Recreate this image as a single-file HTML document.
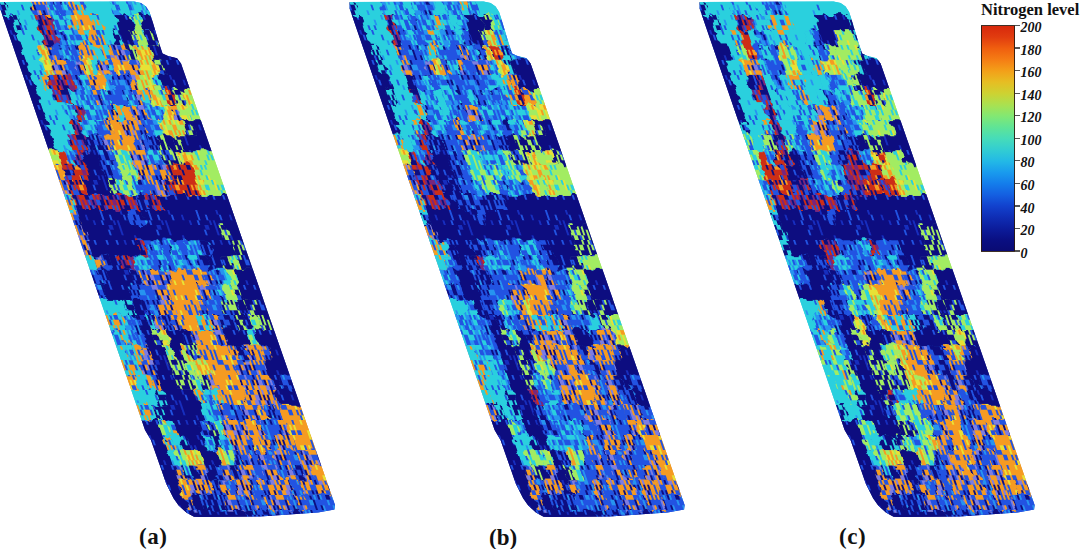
<!DOCTYPE html>
<html><head><meta charset="utf-8"><style>
html,body{margin:0;padding:0;background:#fff;}
body{width:1080px;height:549px;overflow:hidden;position:relative;}
svg{position:absolute;left:0;top:0;}
.tl{font-family:"Liberation Serif",serif;font-weight:bold;font-style:italic;font-size:14px;fill:#111;}
.lab{position:absolute;font-family:"Liberation Serif",serif;font-weight:bold;font-size:23px;letter-spacing:0.6px;color:#111;line-height:1;}
.title{position:absolute;font-family:"Liberation Serif",serif;font-weight:bold;font-size:16.5px;color:#111;line-height:1;white-space:nowrap;}
</style></head><body>
<svg width="1080" height="549" viewBox="0 0 1080 549" shape-rendering="crispEdges">
<defs><filter id="warp" filterUnits="userSpaceOnUse" x="-30" y="-20" width="230" height="565"><feTurbulence type="fractalNoise" baseFrequency="0.12" numOctaves="2" seed="7" result="n"/><feDisplacementMap in="SourceGraphic" in2="n" scale="10" xChannelSelector="R" yChannelSelector="G"/></filter><filter id="soft" x="-2%" y="-2%" width="104%" height="104%"><feGaussianBlur stdDeviation="0.45"/></filter><pattern id="ptN" patternUnits="userSpaceOnUse" width="48" height="45"><rect width="48" height="45" fill="#0c0e80"/><path fill="#192dbe" d="M34 0h4v5h-4zM44 0h2v5h-2zM44 5h2v5h-2zM8 10h2v5h-2zM44 15h2v5h-2zM2 30h2v5h-2zM14 35h2v5h-2zM20 40h2v5h-2zM40 40h2v5h-2zM44 40h2v5h-2z"/><path fill="#2052e2" d="M32 5h2v5h-2zM4 15h2v5h-2zM14 15h2v5h-2zM26 15h2v5h-2zM36 15h2v5h-2zM30 30h2v5h-2zM4 35h2v5h-2zM30 35h2v5h-2zM38 35h2v5h-2zM28 40h2v5h-2z"/></pattern>
<pattern id="ptD" patternUnits="userSpaceOnUse" width="48" height="45"><rect width="48" height="45" fill="#0c0e80"/><path fill="#2894f0" d="M2 0h2v5h-2zM32 0h2v5h-2zM0 10h2v5h-2zM18 10h2v5h-2zM36 10h2v5h-2zM2 15h4v5h-4zM12 15h2v5h-2zM32 15h2v5h-2zM6 25h2v5h-2zM8 30h2v5h-2zM24 40h2v5h-2z"/><path fill="#2052e2" d="M6 0h2v5h-2zM12 0h2v5h-2zM16 0h6v5h-6zM28 0h4v5h-4zM34 0h2v5h-2zM38 0h2v5h-2zM46 0h2v5h-2zM0 5h4v5h-4zM6 5h4v5h-4zM12 5h2v5h-2zM20 5h6v5h-6zM30 5h4v5h-4zM36 5h2v5h-2zM42 5h2v5h-2zM10 10h2v5h-2zM14 10h2v5h-2zM20 10h2v5h-2zM30 10h2v5h-2zM40 10h2v5h-2zM0 15h2v5h-2zM10 15h2v5h-2zM14 15h6v5h-6zM22 15h2v5h-2zM36 15h6v5h-6zM2 20h4v5h-4zM10 20h6v5h-6zM24 20h2v5h-2zM30 20h2v5h-2zM34 20h2v5h-2zM38 20h2v5h-2zM42 20h4v5h-4zM0 25h2v5h-2zM4 25h2v5h-2zM8 25h2v5h-2zM14 25h4v5h-4zM20 25h2v5h-2zM24 25h2v5h-2zM30 25h12v5h-12zM0 30h4v5h-4zM10 30h8v5h-8zM28 30h2v5h-2zM32 30h2v5h-2zM44 30h2v5h-2zM2 35h2v5h-2zM8 35h6v5h-6zM16 35h4v5h-4zM30 35h6v5h-6zM38 35h2v5h-2zM44 35h4v5h-4zM2 40h4v5h-4zM8 40h4v5h-4zM14 40h10v5h-10zM26 40h2v5h-2zM34 40h4v5h-4zM40 40h4v5h-4zM46 40h2v5h-2z"/></pattern>
<pattern id="ptB" patternUnits="userSpaceOnUse" width="48" height="45"><rect width="48" height="45" fill="#2052e2"/><path fill="#2894f0" d="M2 0h2v5h-2zM8 0h2v5h-2zM20 0h4v5h-4zM26 0h2v5h-2zM36 0h2v5h-2zM14 5h2v5h-2zM28 5h2v5h-2zM44 5h4v5h-4zM8 10h2v5h-2zM18 10h2v5h-2zM22 10h2v5h-2zM28 10h2v5h-2zM8 15h2v5h-2zM28 15h2v5h-2zM36 15h2v5h-2zM40 15h2v5h-2zM18 20h2v5h-2zM22 20h2v5h-2zM26 20h2v5h-2zM42 20h6v5h-6zM0 25h2v5h-2zM8 25h2v5h-2zM16 25h2v5h-2zM26 25h2v5h-2zM10 30h2v5h-2zM18 30h2v5h-2zM24 30h4v5h-4zM38 30h2v5h-2zM0 35h4v5h-4zM14 35h4v5h-4zM30 35h2v5h-2zM42 35h2v5h-2zM46 35h2v5h-2zM2 40h4v5h-4zM28 40h4v5h-4zM38 40h2v5h-2z"/><path fill="#0c0e80" d="M6 0h2v5h-2zM14 0h4v5h-4zM30 0h4v5h-4zM46 0h2v5h-2zM0 5h2v5h-2zM0 10h2v5h-2zM6 10h2v5h-2zM26 10h2v5h-2zM30 10h2v5h-2zM26 15h2v5h-2zM32 15h2v5h-2zM42 15h2v5h-2zM14 20h2v5h-2zM20 20h2v5h-2zM40 20h2v5h-2zM10 25h2v5h-2zM38 25h2v5h-2zM4 30h2v5h-2zM40 30h2v5h-2zM46 30h2v5h-2zM6 35h2v5h-2zM24 35h2v5h-2zM28 35h2v5h-2zM22 40h2v5h-2zM32 40h2v5h-2z"/></pattern>
<pattern id="ptA" patternUnits="userSpaceOnUse" width="48" height="45"><rect width="48" height="45" fill="#2052e2"/><path fill="#2894f0" d="M0 0h4v5h-4zM10 0h4v5h-4zM20 0h2v5h-2zM34 0h4v5h-4zM40 0h2v5h-2zM10 5h2v5h-2zM14 5h2v5h-2zM36 5h2v5h-2zM46 5h2v5h-2zM0 10h2v5h-2zM4 10h2v5h-2zM12 10h2v5h-2zM16 10h6v5h-6zM24 10h4v5h-4zM32 10h2v5h-2zM14 15h4v5h-4zM22 15h4v5h-4zM28 15h2v5h-2zM36 15h2v5h-2zM46 15h2v5h-2zM14 20h2v5h-2zM18 20h2v5h-2zM28 20h2v5h-2zM34 20h2v5h-2zM44 20h2v5h-2zM6 25h4v5h-4zM14 25h2v5h-2zM26 25h2v5h-2zM32 25h4v5h-4zM0 30h2v5h-2zM18 30h4v5h-4zM30 30h2v5h-2zM34 30h6v5h-6zM42 30h2v5h-2zM2 35h2v5h-2zM8 35h2v5h-2zM16 35h2v5h-2zM24 35h4v5h-4zM34 35h2v5h-2zM42 35h2v5h-2zM4 40h2v5h-2zM10 40h2v5h-2zM14 40h2v5h-2zM34 40h6v5h-6zM44 40h2v5h-2z"/><path fill="#2ad0de" d="M8 0h2v5h-2zM16 0h2v5h-2zM22 0h4v5h-4zM28 0h4v5h-4zM38 0h2v5h-2zM42 0h4v5h-4zM0 5h2v5h-2zM6 5h2v5h-2zM16 5h4v5h-4zM24 5h2v5h-2zM38 5h8v5h-8zM2 10h2v5h-2zM10 10h2v5h-2zM30 10h2v5h-2zM34 10h10v5h-10zM46 10h2v5h-2zM2 15h6v5h-6zM12 15h2v5h-2zM18 15h2v5h-2zM30 15h4v5h-4zM40 15h2v5h-2zM0 20h2v5h-2zM6 20h6v5h-6zM24 20h4v5h-4zM32 20h2v5h-2zM36 20h8v5h-8zM46 20h2v5h-2zM0 25h2v5h-2zM18 25h4v5h-4zM30 25h2v5h-2zM38 25h2v5h-2zM46 25h2v5h-2zM2 30h14v5h-14zM22 30h8v5h-8zM32 30h2v5h-2zM40 30h2v5h-2zM0 35h2v5h-2zM4 35h2v5h-2zM10 35h2v5h-2zM32 35h2v5h-2zM38 35h2v5h-2zM44 35h4v5h-4zM2 40h2v5h-2zM6 40h4v5h-4zM12 40h2v5h-2zM16 40h10v5h-10zM30 40h4v5h-4zM40 40h4v5h-4z"/></pattern>
<pattern id="ptK" patternUnits="userSpaceOnUse" width="48" height="45"><rect width="48" height="45" fill="#2ad0de"/><path fill="#2052e2" d="M0 0h2v5h-2zM16 0h2v5h-2zM20 0h2v5h-2zM34 0h2v5h-2zM2 5h2v5h-2zM8 5h2v5h-2zM18 5h4v5h-4zM24 5h6v5h-6zM10 10h2v5h-2zM16 10h2v5h-2zM36 10h2v5h-2zM44 10h2v5h-2zM6 15h2v5h-2zM18 15h2v5h-2zM26 15h4v5h-4zM0 20h2v5h-2zM16 20h2v5h-2zM20 20h2v5h-2zM26 20h2v5h-2zM34 20h4v5h-4zM42 20h2v5h-2zM8 25h2v5h-2zM12 25h4v5h-4zM24 25h2v5h-2zM42 25h2v5h-2zM22 30h2v5h-2zM38 30h2v5h-2zM20 35h2v5h-2zM38 35h2v5h-2zM30 40h2v5h-2zM44 40h2v5h-2z"/><path fill="#2894f0" d="M8 0h2v5h-2zM18 0h2v5h-2zM32 0h2v5h-2zM10 5h2v5h-2zM34 5h2v5h-2zM38 5h2v5h-2zM22 10h4v5h-4zM28 10h2v5h-2zM32 10h2v5h-2zM38 10h2v5h-2zM10 15h4v5h-4zM46 15h2v5h-2zM2 20h2v5h-2zM0 25h2v5h-2zM22 25h2v5h-2zM30 25h2v5h-2zM6 30h2v5h-2zM24 30h2v5h-2zM32 30h2v5h-2zM36 30h2v5h-2zM8 35h2v5h-2zM12 35h2v5h-2zM36 35h2v5h-2zM6 40h4v5h-4zM14 40h2v5h-2z"/></pattern>
<pattern id="ptJ" patternUnits="userSpaceOnUse" width="48" height="45"><rect width="48" height="45" fill="#2ad0de"/><path fill="#a2ec62" d="M0 0h4v5h-4zM12 0h4v5h-4zM26 0h2v5h-2zM8 5h2v5h-2zM16 5h4v5h-4zM24 5h2v5h-2zM10 10h4v5h-4zM22 10h2v5h-2zM32 10h2v5h-2zM2 15h2v5h-2zM22 15h6v5h-6zM30 15h2v5h-2zM40 15h2v5h-2zM2 20h2v5h-2zM6 20h2v5h-2zM16 20h2v5h-2zM20 20h4v5h-4zM28 20h2v5h-2zM34 20h2v5h-2zM40 20h2v5h-2zM2 25h2v5h-2zM6 25h2v5h-2zM14 25h4v5h-4zM24 25h4v5h-4zM38 25h2v5h-2zM4 30h6v5h-6zM16 30h2v5h-2zM24 30h4v5h-4zM36 30h2v5h-2zM42 30h2v5h-2zM0 35h2v5h-2zM14 35h2v5h-2zM18 35h8v5h-8zM30 35h2v5h-2zM34 35h2v5h-2zM40 35h2v5h-2zM14 40h2v5h-2zM34 40h2v5h-2zM44 40h4v5h-4z"/><path fill="#2052e2" d="M4 0h2v5h-2zM8 0h2v5h-2zM24 0h2v5h-2zM14 5h2v5h-2zM28 5h2v5h-2zM32 5h2v5h-2zM36 5h4v5h-4zM42 5h2v5h-2zM46 5h2v5h-2zM20 10h2v5h-2zM28 10h2v5h-2zM38 10h2v5h-2zM20 15h2v5h-2zM42 15h2v5h-2zM46 15h2v5h-2zM30 20h2v5h-2zM46 20h2v5h-2zM36 25h2v5h-2zM28 30h2v5h-2zM40 30h2v5h-2zM2 35h2v5h-2zM16 35h2v5h-2zM42 40h2v5h-2z"/><path fill="#f59b20" d="M18 10h2v5h-2zM18 15h2v5h-2zM4 20h2v5h-2zM42 20h2v5h-2zM12 25h2v5h-2zM14 30h2v5h-2zM18 30h2v5h-2zM38 30h2v5h-2zM4 35h2v5h-2zM44 35h2v5h-2zM2 40h2v5h-2zM12 40h2v5h-2z"/></pattern>
<pattern id="ptC" patternUnits="userSpaceOnUse" width="48" height="45"><rect width="48" height="45" fill="#2ad0de"/><path fill="#2052e2" d="M22 5h2v5h-2zM36 20h2v5h-2zM12 25h2v5h-2zM18 25h2v5h-2zM14 30h2v5h-2zM22 35h2v5h-2z"/><path fill="#2894f0" d="M16 10h2v5h-2zM28 15h2v5h-2zM20 20h2v5h-2zM32 25h2v5h-2zM38 35h2v5h-2zM2 40h2v5h-2zM26 40h2v5h-2z"/></pattern>
<pattern id="ptT" patternUnits="userSpaceOnUse" width="48" height="45"><rect width="48" height="45" fill="#0c0e80"/><path fill="#2ad0de" d="M2 0h4v5h-4zM8 0h6v5h-6zM24 0h2v5h-2zM40 0h2v5h-2zM6 5h2v5h-2zM10 5h2v5h-2zM14 5h2v5h-2zM18 5h2v5h-2zM24 5h2v5h-2zM30 5h2v5h-2zM36 5h2v5h-2zM44 5h2v5h-2zM4 10h4v5h-4zM12 10h2v5h-2zM20 10h4v5h-4zM26 10h22v5h-22zM0 15h10v5h-10zM14 15h2v5h-2zM18 15h4v5h-4zM26 15h2v5h-2zM30 15h4v5h-4zM38 15h2v5h-2zM42 15h2v5h-2zM46 15h2v5h-2zM0 20h2v5h-2zM8 20h6v5h-6zM22 20h2v5h-2zM26 20h2v5h-2zM30 20h2v5h-2zM36 20h2v5h-2zM40 20h6v5h-6zM4 25h6v5h-6zM16 25h6v5h-6zM32 25h4v5h-4zM38 25h2v5h-2zM42 25h4v5h-4zM2 30h6v5h-6zM10 30h4v5h-4zM16 30h2v5h-2zM26 30h10v5h-10zM46 30h2v5h-2zM0 35h2v5h-2zM14 35h4v5h-4zM22 35h2v5h-2zM36 35h2v5h-2zM44 35h2v5h-2zM0 40h4v5h-4zM12 40h4v5h-4zM24 40h4v5h-4zM30 40h2v5h-2zM40 40h2v5h-2zM44 40h4v5h-4z"/><path fill="#2052e2" d="M16 0h2v5h-2zM34 0h2v5h-2zM38 0h2v5h-2zM44 0h2v5h-2zM0 5h2v5h-2zM40 5h2v5h-2zM8 10h2v5h-2zM24 10h2v5h-2zM28 15h2v5h-2zM20 20h2v5h-2zM28 20h2v5h-2zM34 20h2v5h-2zM14 25h2v5h-2zM30 25h2v5h-2zM36 30h2v5h-2zM4 35h4v5h-4zM20 40h2v5h-2z"/></pattern>
<pattern id="ptG" patternUnits="userSpaceOnUse" width="48" height="45"><rect width="48" height="45" fill="#a2ec62"/><path fill="#2ad0de" d="M8 0h2v5h-2zM32 0h2v5h-2zM38 0h2v5h-2zM0 5h4v5h-4zM12 5h2v5h-2zM16 5h4v5h-4zM40 5h2v5h-2zM14 10h2v5h-2zM22 10h4v5h-4zM36 10h2v5h-2zM44 10h2v5h-2zM0 15h4v5h-4zM14 15h2v5h-2zM22 15h2v5h-2zM38 15h2v5h-2zM2 20h2v5h-2zM12 20h2v5h-2zM16 20h2v5h-2zM22 20h2v5h-2zM8 25h2v5h-2zM24 25h2v5h-2zM2 30h2v5h-2zM6 30h2v5h-2zM20 30h2v5h-2zM38 30h2v5h-2zM0 35h2v5h-2zM26 35h2v5h-2zM34 35h2v5h-2zM4 40h2v5h-2z"/><path fill="#e8e134" d="M10 0h2v5h-2zM46 0h2v5h-2zM10 5h2v5h-2zM20 5h2v5h-2zM26 10h2v5h-2zM4 15h2v5h-2zM28 15h2v5h-2zM38 20h2v5h-2zM20 25h2v5h-2zM30 30h2v5h-2zM32 35h2v5h-2zM6 40h2v5h-2zM28 40h2v5h-2zM40 40h2v5h-2z"/></pattern>
<pattern id="ptY" patternUnits="userSpaceOnUse" width="48" height="45"><rect width="48" height="45" fill="#a2ec62"/><path fill="#f59b20" d="M0 0h4v5h-4zM6 0h2v5h-2zM16 0h2v5h-2zM20 0h2v5h-2zM24 0h4v5h-4zM32 0h2v5h-2zM38 0h2v5h-2zM8 5h2v5h-2zM12 5h2v5h-2zM20 5h2v5h-2zM26 5h4v5h-4zM34 5h2v5h-2zM38 5h2v5h-2zM42 5h2v5h-2zM6 10h2v5h-2zM12 10h2v5h-2zM18 10h4v5h-4zM28 10h2v5h-2zM32 10h2v5h-2zM36 10h2v5h-2zM40 10h2v5h-2zM44 10h2v5h-2zM4 15h2v5h-2zM16 15h4v5h-4zM26 15h2v5h-2zM32 15h2v5h-2zM38 15h2v5h-2zM12 20h2v5h-2zM20 20h2v5h-2zM36 20h4v5h-4zM44 20h2v5h-2zM20 25h6v5h-6zM28 25h2v5h-2zM36 25h2v5h-2zM40 25h4v5h-4zM2 30h4v5h-4zM10 30h4v5h-4zM16 30h4v5h-4zM28 30h2v5h-2zM34 30h2v5h-2zM44 30h4v5h-4zM0 35h2v5h-2zM10 35h6v5h-6zM20 35h2v5h-2zM24 35h2v5h-2zM36 35h4v5h-4zM6 40h2v5h-2zM20 40h2v5h-2zM30 40h4v5h-4zM36 40h2v5h-2zM40 40h2v5h-2zM44 40h2v5h-2z"/><path fill="#e8e134" d="M4 0h2v5h-2zM10 0h2v5h-2zM22 0h2v5h-2zM40 0h2v5h-2zM44 0h4v5h-4zM0 5h4v5h-4zM6 5h2v5h-2zM10 5h2v5h-2zM30 5h4v5h-4zM36 5h2v5h-2zM0 10h2v5h-2zM4 10h2v5h-2zM14 10h2v5h-2zM24 10h2v5h-2zM30 10h2v5h-2zM42 10h2v5h-2zM2 15h2v5h-2zM6 15h4v5h-4zM12 15h4v5h-4zM20 15h2v5h-2zM28 15h2v5h-2zM36 15h2v5h-2zM8 20h4v5h-4zM16 20h2v5h-2zM24 20h10v5h-10zM40 20h4v5h-4zM0 25h6v5h-6zM8 25h2v5h-2zM16 25h2v5h-2zM34 25h2v5h-2zM38 25h2v5h-2zM14 30h2v5h-2zM24 30h2v5h-2zM32 30h2v5h-2zM38 30h2v5h-2zM42 30h2v5h-2zM4 35h6v5h-6zM28 35h2v5h-2zM2 40h4v5h-4zM10 40h4v5h-4zM26 40h4v5h-4z"/></pattern>
<pattern id="ptO" patternUnits="userSpaceOnUse" width="48" height="45"><rect width="48" height="45" fill="#f59b20"/><path fill="#2052e2" d="M0 0h6v5h-6zM28 0h2v5h-2zM6 5h4v5h-4zM14 5h2v5h-2zM18 5h2v5h-2zM26 5h2v5h-2zM42 5h2v5h-2zM16 10h2v5h-2zM6 15h2v5h-2zM28 20h2v5h-2zM2 25h4v5h-4zM8 25h4v5h-4zM22 25h2v5h-2zM38 25h2v5h-2zM42 30h2v5h-2zM0 35h2v5h-2zM18 35h2v5h-2zM34 35h2v5h-2zM38 35h2v5h-2zM44 35h2v5h-2zM0 40h2v5h-2zM10 40h2v5h-2zM18 40h2v5h-2zM36 40h4v5h-4zM44 40h2v5h-2z"/><path fill="#e8e134" d="M14 0h2v5h-2zM24 5h2v5h-2zM18 10h2v5h-2zM32 10h2v5h-2zM40 10h2v5h-2zM14 15h2v5h-2zM24 15h2v5h-2zM2 20h2v5h-2zM6 20h2v5h-2zM0 25h2v5h-2zM18 25h4v5h-4zM28 25h2v5h-2zM34 25h2v5h-2zM2 30h2v5h-2zM18 30h2v5h-2zM22 35h2v5h-2zM6 40h4v5h-4zM14 40h2v5h-2zM28 40h2v5h-2z"/></pattern>
<pattern id="ptR" patternUnits="userSpaceOnUse" width="48" height="45"><rect width="48" height="45" fill="#cd2d19"/><path fill="#0c0e80" d="M0 0h4v5h-4zM16 0h2v5h-2zM20 0h2v5h-2zM24 0h2v5h-2zM46 0h2v5h-2zM10 5h2v5h-2zM30 5h2v5h-2zM42 5h4v5h-4zM2 10h2v5h-2zM12 10h2v5h-2zM16 10h2v5h-2zM26 10h2v5h-2zM30 10h2v5h-2zM36 10h2v5h-2zM44 10h2v5h-2zM18 15h4v5h-4zM26 15h2v5h-2zM32 15h2v5h-2zM40 15h4v5h-4zM4 20h2v5h-2zM22 20h4v5h-4zM30 20h2v5h-2zM20 25h2v5h-2zM34 25h2v5h-2zM0 30h2v5h-2zM12 30h2v5h-2zM18 30h2v5h-2zM28 30h2v5h-2zM36 30h4v5h-4zM0 35h2v5h-2zM16 35h2v5h-2zM30 35h2v5h-2zM44 35h2v5h-2zM2 40h4v5h-4zM24 40h4v5h-4zM46 40h2v5h-2z"/><path fill="#f59b20" d="M4 0h4v5h-4zM12 0h2v5h-2zM22 0h2v5h-2zM26 0h2v5h-2zM42 0h2v5h-2zM6 5h4v5h-4zM18 5h4v5h-4zM34 5h2v5h-2zM38 5h4v5h-4zM0 10h2v5h-2zM4 10h2v5h-2zM8 10h2v5h-2zM24 10h2v5h-2zM42 10h2v5h-2zM0 15h2v5h-2zM16 15h2v5h-2zM24 15h2v5h-2zM30 15h2v5h-2zM34 15h4v5h-4zM6 20h2v5h-2zM26 20h2v5h-2zM38 20h4v5h-4zM46 20h2v5h-2zM2 25h2v5h-2zM14 25h2v5h-2zM32 25h2v5h-2zM46 25h2v5h-2zM20 30h6v5h-6zM46 35h2v5h-2zM8 40h2v5h-2zM22 40h2v5h-2z"/></pattern>
<pattern id="ptP" patternUnits="userSpaceOnUse" width="48" height="45"><rect width="48" height="45" fill="#cd2d19"/><path fill="#78287d" d="M0 0h2v5h-2zM4 0h4v5h-4zM16 0h2v5h-2zM20 0h6v5h-6zM28 0h2v5h-2zM40 0h2v5h-2zM44 0h2v5h-2zM0 5h2v5h-2zM4 5h2v5h-2zM18 5h2v5h-2zM30 5h2v5h-2zM36 5h2v5h-2zM42 5h2v5h-2zM4 10h2v5h-2zM20 10h2v5h-2zM0 15h2v5h-2zM6 15h2v5h-2zM12 15h2v5h-2zM30 15h2v5h-2zM34 15h2v5h-2zM38 15h2v5h-2zM0 20h2v5h-2zM16 20h2v5h-2zM20 20h2v5h-2zM24 20h2v5h-2zM28 20h2v5h-2zM42 20h2v5h-2zM46 20h2v5h-2zM6 25h2v5h-2zM16 25h2v5h-2zM26 25h2v5h-2zM36 25h2v5h-2zM0 30h2v5h-2zM4 30h4v5h-4zM12 30h2v5h-2zM44 30h4v5h-4zM0 35h2v5h-2zM6 35h2v5h-2zM26 35h4v5h-4zM34 35h2v5h-2zM38 35h2v5h-2zM44 35h2v5h-2zM2 40h2v5h-2zM8 40h2v5h-2zM16 40h2v5h-2zM34 40h2v5h-2zM42 40h6v5h-6z"/><path fill="#0c0e80" d="M10 0h4v5h-4zM18 0h2v5h-2zM32 0h8v5h-8zM42 0h2v5h-2zM46 0h2v5h-2zM2 5h2v5h-2zM6 5h4v5h-4zM16 5h2v5h-2zM22 5h4v5h-4zM38 5h4v5h-4zM0 10h2v5h-2zM16 10h4v5h-4zM40 10h2v5h-2zM46 10h2v5h-2zM2 15h2v5h-2zM8 15h4v5h-4zM20 15h4v5h-4zM36 15h2v5h-2zM44 15h4v5h-4zM4 20h2v5h-2zM10 20h2v5h-2zM26 20h2v5h-2zM34 20h4v5h-4zM40 20h2v5h-2zM4 25h2v5h-2zM8 25h6v5h-6zM22 25h2v5h-2zM28 25h2v5h-2zM32 25h4v5h-4zM18 30h2v5h-2zM24 30h2v5h-2zM34 30h2v5h-2zM40 30h2v5h-2zM2 35h2v5h-2zM8 35h6v5h-6zM18 35h2v5h-2zM32 35h2v5h-2zM36 35h2v5h-2zM20 40h4v5h-4zM30 40h2v5h-2zM36 40h6v5h-6z"/><path fill="#2052e2" d="M26 0h2v5h-2zM10 5h2v5h-2zM14 5h2v5h-2zM28 5h2v5h-2zM32 5h4v5h-4zM44 5h2v5h-2zM2 10h2v5h-2zM10 10h6v5h-6zM30 10h4v5h-4zM36 10h2v5h-2zM42 10h4v5h-4zM4 15h2v5h-2zM24 15h4v5h-4zM40 15h2v5h-2zM12 20h2v5h-2zM22 20h2v5h-2zM30 20h4v5h-4zM0 25h2v5h-2zM18 25h2v5h-2zM24 25h2v5h-2zM38 25h2v5h-2zM44 25h2v5h-2zM26 30h4v5h-4zM36 30h2v5h-2zM14 35h4v5h-4zM42 35h2v5h-2zM6 40h2v5h-2zM10 40h4v5h-4zM24 40h2v5h-2z"/></pattern>
<pattern id="ptM" patternUnits="userSpaceOnUse" width="48" height="45"><rect width="48" height="45" fill="#f59b20"/><path fill="#2052e2" d="M2 0h2v5h-2zM8 0h4v5h-4zM20 0h6v5h-6zM34 0h2v5h-2zM38 0h2v5h-2zM42 0h2v5h-2zM46 0h2v5h-2zM2 5h4v5h-4zM14 5h6v5h-6zM28 5h2v5h-2zM36 5h10v5h-10zM8 10h2v5h-2zM14 10h2v5h-2zM22 10h4v5h-4zM30 10h6v5h-6zM40 10h2v5h-2zM44 10h2v5h-2zM0 15h2v5h-2zM6 15h2v5h-2zM14 15h8v5h-8zM24 15h6v5h-6zM32 15h2v5h-2zM36 15h2v5h-2zM0 20h2v5h-2zM8 20h2v5h-2zM22 20h2v5h-2zM26 20h2v5h-2zM38 20h2v5h-2zM44 20h2v5h-2zM6 25h4v5h-4zM12 25h2v5h-2zM26 25h2v5h-2zM46 25h2v5h-2zM6 30h2v5h-2zM10 30h2v5h-2zM18 30h2v5h-2zM22 30h4v5h-4zM40 30h2v5h-2zM2 35h6v5h-6zM14 35h2v5h-2zM44 35h2v5h-2zM0 40h2v5h-2zM4 40h2v5h-2zM16 40h4v5h-4zM28 40h2v5h-2zM38 40h2v5h-2zM46 40h2v5h-2z"/><path fill="#0c0e80" d="M4 0h2v5h-2zM8 5h2v5h-2zM20 5h2v5h-2zM26 5h2v5h-2zM30 5h2v5h-2zM34 5h2v5h-2zM6 10h2v5h-2zM10 10h2v5h-2zM20 10h2v5h-2zM26 10h2v5h-2zM42 10h2v5h-2zM30 15h2v5h-2zM2 20h2v5h-2zM10 20h2v5h-2zM16 20h2v5h-2zM28 20h2v5h-2zM32 20h2v5h-2zM40 20h2v5h-2zM4 25h2v5h-2zM10 25h2v5h-2zM20 25h2v5h-2zM44 25h2v5h-2zM8 30h2v5h-2zM30 30h2v5h-2zM44 30h2v5h-2zM20 35h2v5h-2zM30 35h2v5h-2zM34 35h2v5h-2zM38 35h2v5h-2zM2 40h2v5h-2zM6 40h2v5h-2zM12 40h2v5h-2zM36 40h2v5h-2z"/><path fill="#7d7de1" d="M6 0h2v5h-2zM28 0h4v5h-4zM10 5h4v5h-4zM24 5h2v5h-2zM46 5h2v5h-2zM0 10h2v5h-2zM4 10h2v5h-2zM18 10h2v5h-2zM36 10h2v5h-2zM46 10h2v5h-2zM8 15h6v5h-6zM22 15h2v5h-2zM6 20h2v5h-2zM34 20h4v5h-4zM46 20h2v5h-2zM0 25h2v5h-2zM16 25h4v5h-4zM32 25h2v5h-2zM40 25h4v5h-4zM2 30h2v5h-2zM12 30h4v5h-4zM34 30h2v5h-2zM26 35h4v5h-4zM24 40h4v5h-4zM34 40h2v5h-2zM42 40h2v5h-2z"/></pattern>
<pattern id="ptQ" patternUnits="userSpaceOnUse" width="48" height="45"><rect width="48" height="45" fill="#2ad0de"/><path fill="#f59b20" d="M0 0h2v5h-2zM16 0h2v5h-2zM20 0h4v5h-4zM26 0h2v5h-2zM40 0h2v5h-2zM0 5h2v5h-2zM6 5h6v5h-6zM16 5h2v5h-2zM22 5h2v5h-2zM26 5h2v5h-2zM30 5h2v5h-2zM34 5h2v5h-2zM40 5h2v5h-2zM46 5h2v5h-2zM4 10h2v5h-2zM8 10h2v5h-2zM24 10h4v5h-4zM32 10h2v5h-2zM40 10h2v5h-2zM46 10h2v5h-2zM6 15h2v5h-2zM12 15h2v5h-2zM20 15h4v5h-4zM34 15h4v5h-4zM0 20h2v5h-2zM4 20h2v5h-2zM8 20h2v5h-2zM20 20h4v5h-4zM34 20h4v5h-4zM40 20h2v5h-2zM44 20h2v5h-2zM0 25h4v5h-4zM10 25h2v5h-2zM14 25h4v5h-4zM20 25h2v5h-2zM28 25h6v5h-6zM4 30h2v5h-2zM14 30h2v5h-2zM18 30h10v5h-10zM38 30h2v5h-2zM8 35h4v5h-4zM14 35h2v5h-2zM18 35h2v5h-2zM32 35h2v5h-2zM36 35h4v5h-4zM44 35h2v5h-2zM8 40h4v5h-4zM16 40h2v5h-2zM20 40h2v5h-2zM24 40h2v5h-2zM36 40h2v5h-2zM44 40h2v5h-2z"/><path fill="#2052e2" d="M4 0h2v5h-2zM8 0h4v5h-4zM24 0h2v5h-2zM34 0h4v5h-4zM2 5h2v5h-2zM12 5h2v5h-2zM24 5h2v5h-2zM28 5h2v5h-2zM36 5h4v5h-4zM22 10h2v5h-2zM42 10h4v5h-4zM2 15h2v5h-2zM8 15h2v5h-2zM46 15h2v5h-2zM2 20h2v5h-2zM18 20h2v5h-2zM28 20h4v5h-4zM6 25h4v5h-4zM40 30h4v5h-4zM46 30h2v5h-2zM12 35h2v5h-2zM20 35h2v5h-2zM28 35h2v5h-2zM42 35h2v5h-2zM22 40h2v5h-2zM26 40h2v5h-2zM30 40h2v5h-2zM34 40h2v5h-2zM42 40h2v5h-2z"/></pattern>
<pattern id="ptE" patternUnits="userSpaceOnUse" width="48" height="45"><rect width="48" height="45" fill="#0c0e80"/><path fill="#a2ec62" d="M0 0h2v5h-2zM8 0h2v5h-2zM12 0h2v5h-2zM20 0h8v5h-8zM34 0h2v5h-2zM44 0h2v5h-2zM0 5h4v5h-4zM6 5h4v5h-4zM12 5h2v5h-2zM16 5h2v5h-2zM22 5h2v5h-2zM26 5h2v5h-2zM36 5h4v5h-4zM44 5h2v5h-2zM2 10h4v5h-4zM10 10h2v5h-2zM16 10h2v5h-2zM22 10h2v5h-2zM26 10h4v5h-4zM32 10h2v5h-2zM38 10h4v5h-4zM46 10h2v5h-2zM8 15h2v5h-2zM14 15h2v5h-2zM24 15h4v5h-4zM36 15h2v5h-2zM40 15h6v5h-6zM0 20h2v5h-2zM4 20h4v5h-4zM12 20h2v5h-2zM16 20h2v5h-2zM26 20h2v5h-2zM30 20h2v5h-2zM46 20h2v5h-2zM2 25h2v5h-2zM12 25h2v5h-2zM20 25h2v5h-2zM30 25h2v5h-2zM40 25h2v5h-2zM10 30h2v5h-2zM20 30h2v5h-2zM24 30h2v5h-2zM28 30h2v5h-2zM32 30h2v5h-2zM36 30h2v5h-2zM46 30h2v5h-2zM6 35h2v5h-2zM26 35h2v5h-2zM30 35h8v5h-8zM46 35h2v5h-2zM2 40h4v5h-4zM20 40h4v5h-4zM38 40h2v5h-2z"/><path fill="#2052e2" d="M28 0h2v5h-2zM4 5h2v5h-2zM42 5h2v5h-2zM8 10h2v5h-2zM16 15h2v5h-2zM20 15h4v5h-4zM46 15h2v5h-2zM18 20h2v5h-2zM22 20h4v5h-4zM42 25h4v5h-4zM8 30h2v5h-2zM14 30h2v5h-2zM22 30h2v5h-2zM4 35h2v5h-2zM14 35h4v5h-4zM22 35h2v5h-2zM28 35h2v5h-2zM40 35h2v5h-2zM0 40h2v5h-2zM26 40h4v5h-4zM32 40h2v5h-2z"/></pattern>
<pattern id="ptH" patternUnits="userSpaceOnUse" width="48" height="45"><rect width="48" height="45" fill="#a2ec62"/><path fill="#2ad0de" d="M2 0h4v5h-4zM8 0h4v5h-4zM16 0h2v5h-2zM34 0h2v5h-2zM40 0h6v5h-6zM0 5h2v5h-2zM14 5h4v5h-4zM26 5h2v5h-2zM36 5h4v5h-4zM46 5h2v5h-2zM6 10h6v5h-6zM18 10h2v5h-2zM26 10h4v5h-4zM42 10h2v5h-2zM46 10h2v5h-2zM0 15h4v5h-4zM16 15h2v5h-2zM24 15h6v5h-6zM36 15h2v5h-2zM40 15h6v5h-6zM2 20h4v5h-4zM20 20h4v5h-4zM26 20h8v5h-8zM38 20h2v5h-2zM44 20h4v5h-4zM2 25h2v5h-2zM10 25h2v5h-2zM20 25h4v5h-4zM26 25h2v5h-2zM30 25h2v5h-2zM42 25h4v5h-4zM0 30h4v5h-4zM6 30h2v5h-2zM10 30h2v5h-2zM14 30h2v5h-2zM18 30h6v5h-6zM26 30h2v5h-2zM30 30h2v5h-2zM34 30h4v5h-4zM40 30h2v5h-2zM46 30h2v5h-2zM4 35h6v5h-6zM12 35h2v5h-2zM20 35h6v5h-6zM32 35h2v5h-2zM36 35h4v5h-4zM44 35h2v5h-2zM2 40h2v5h-2zM6 40h2v5h-2zM10 40h2v5h-2zM16 40h2v5h-2zM20 40h2v5h-2zM28 40h2v5h-2zM40 40h4v5h-4z"/><path fill="#2052e2" d="M18 0h2v5h-2zM26 0h2v5h-2zM36 0h2v5h-2zM46 0h2v5h-2zM4 5h2v5h-2zM8 5h2v5h-2zM40 5h2v5h-2zM44 5h2v5h-2zM2 10h4v5h-4zM20 10h2v5h-2zM18 15h2v5h-2zM32 15h2v5h-2zM46 15h2v5h-2zM12 20h2v5h-2zM0 25h2v5h-2zM4 25h2v5h-2zM16 30h2v5h-2zM32 30h2v5h-2zM38 30h2v5h-2zM44 30h2v5h-2zM34 35h2v5h-2zM26 40h2v5h-2zM38 40h2v5h-2z"/></pattern></defs>
<clipPath id="cp0"><polygon points="0.0,2.0 134.0,1.5 141.0,3.0 146.0,6.5 149.5,12.0 153.0,23.0 159.0,43.0 162.5,53.5 168.0,56.0 177.0,58.3 181.0,63.5 335.0,505.0 334.5,509.5 318.0,512.5 260.0,516.5 200.0,517.0 194.0,516.8 186.6,512.8 178.6,505.5 173.5,498.3 166.2,483.7 161.1,469.0 156.0,454.6 150.9,440.0 145.0,430.0 0.0,8.5"/></clipPath>
<defs><mask id="m0T" maskUnits="userSpaceOnUse" x="-30" y="-20" width="230" height="565"><g filter="url(#warp)"><path fill="#fff" d="M-20 -10h28v25h-28zM8 15h8v15h-8zM104 30h8v15h-8zM24 300h8v15h-8zM40 315h8v15h-8zM24 390h8v15h-8zM16 405h8v15h-8zM32 435h8v15h-8zM64 435h8v15h-8zM24 465h8v15h-8z"/></g></mask><mask id="m0C" maskUnits="userSpaceOnUse" x="-30" y="-20" width="230" height="565"><g filter="url(#warp)"><path fill="#fff" d="M8 -10h8v25h-8zM16 -10h8v25h-8zM24 -10h8v25h-8zM88 -10h8v25h-8zM96 -10h8v25h-8zM104 -10h8v25h-8zM120 -10h8v25h-8zM16 15h8v15h-8zM24 15h8v15h-8zM96 15h8v15h-8zM104 15h8v15h-8zM8 30h8v15h-8zM16 30h8v15h-8zM24 30h8v15h-8zM96 30h8v15h-8zM8 45h8v15h-8zM16 45h8v15h-8zM80 45h8v15h-8zM8 60h8v15h-8zM16 60h8v15h-8zM8 75h8v15h-8zM8 90h8v15h-8zM16 90h8v15h-8zM8 105h8v15h-8zM16 105h8v15h-8zM24 105h8v15h-8zM8 120h8v15h-8zM16 120h8v15h-8zM24 120h8v15h-8zM8 135h8v15h-8zM16 135h8v15h-8zM-20 300h28v15h-28zM8 300h8v15h-8zM16 300h8v15h-8zM8 375h8v15h-8zM-20 390h28v15h-28zM8 390h8v15h-8zM16 390h8v15h-8zM64 405h8v15h-8zM24 435h8v15h-8zM16 450h8v15h-8z"/></g></mask><mask id="m0M" maskUnits="userSpaceOnUse" x="-30" y="-20" width="230" height="565"><g filter="url(#warp)"><path fill="#fff" d="M32 -10h8v25h-8zM40 -10h8v25h-8zM32 45h8v15h-8zM96 45h8v15h-8zM104 45h8v15h-8zM32 60h8v15h-8zM40 60h8v15h-8zM56 60h8v15h-8zM80 60h8v15h-8zM112 60h8v15h-8zM64 75h8v15h-8zM104 75h8v15h-8zM64 90h8v15h-8zM104 90h8v15h-8zM72 105h8v15h-8zM96 105h8v15h-8zM104 105h8v15h-8zM136 105h8v15h-8zM64 120h8v15h-8zM80 120h8v15h-8zM88 120h8v15h-8zM96 120h8v15h-8zM56 135h8v15h-8zM88 135h8v15h-8zM80 150h8v15h-8zM88 150h8v15h-8zM80 165h8v15h-8zM88 165h8v15h-8zM96 165h8v15h-8zM104 165h8v15h-8zM-20 180h28v15h-28zM88 180h8v15h-8zM96 180h8v15h-8zM-20 210h28v15h-28zM-20 225h28v15h-28zM-20 240h28v15h-28zM8 255h8v15h-8zM48 270h8v15h-8zM56 270h8v15h-8zM64 270h8v15h-8zM72 270h8v15h-8zM112 270h8v15h-8zM56 285h8v15h-8zM64 285h8v15h-8zM104 285h8v15h-8zM56 300h8v15h-8zM64 300h8v15h-8zM96 300h8v15h-8zM48 315h8v15h-8zM64 315h8v15h-8zM104 315h8v15h-8zM80 330h8v15h-8zM104 330h8v15h-8zM24 345h8v15h-8zM112 345h8v15h-8zM128 345h8v15h-8zM144 345h8v15h-8zM16 360h8v15h-8zM24 360h8v15h-8zM112 360h8v15h-8zM120 360h8v15h-8zM128 360h8v15h-8zM136 360h8v15h-8zM24 375h8v15h-8zM80 375h8v15h-8zM112 375h8v15h-8zM120 375h8v15h-8zM128 375h8v15h-8zM136 375h8v15h-8zM112 390h8v15h-8zM120 390h8v15h-8zM128 390h8v15h-8zM136 390h8v15h-8zM80 405h8v15h-8zM104 405h8v15h-8zM112 405h8v15h-8zM136 405h8v15h-8zM80 420h8v15h-8zM88 420h8v15h-8zM96 420h8v15h-8zM112 420h8v15h-8zM136 420h8v15h-8zM80 435h8v15h-8zM88 435h8v15h-8zM96 435h8v15h-8zM112 435h8v15h-8zM128 435h8v15h-8zM136 435h8v15h-8zM88 450h8v15h-8zM104 450h8v15h-8zM120 450h8v15h-8zM128 450h8v15h-8zM144 450h8v15h-8zM152 450h38v15h-38zM16 465h8v15h-8zM40 465h8v15h-8zM64 465h8v15h-8zM80 465h8v15h-8zM88 465h8v15h-8zM104 465h8v15h-8zM112 465h8v15h-8zM128 465h8v15h-8zM144 465h8v15h-8zM24 480h8v15h-8zM32 480h8v15h-8zM40 480h8v15h-8zM56 480h8v15h-8zM72 480h8v15h-8zM80 480h8v15h-8zM96 480h8v15h-8zM104 480h8v15h-8zM112 480h8v15h-8zM120 480h8v15h-8zM136 480h8v15h-8zM144 480h8v15h-8zM152 480h38v15h-38zM16 495h8v15h-8zM56 495h8v15h-8zM64 495h8v15h-8zM80 495h8v15h-8zM96 495h8v15h-8zM104 495h8v15h-8zM112 495h8v15h-8zM128 495h8v15h-8z"/></g></mask><mask id="m0A" maskUnits="userSpaceOnUse" x="-30" y="-20" width="230" height="565"><g filter="url(#warp)"><path fill="#fff" d="M48 -10h8v25h-8zM64 -10h8v25h-8zM112 -10h8v25h-8zM128 -10h8v25h-8zM136 -10h8v25h-8zM144 -10h8v25h-8zM152 -10h38v25h-38zM48 15h8v15h-8zM56 15h8v15h-8zM56 30h8v15h-8zM64 30h8v15h-8zM48 45h8v15h-8zM88 60h8v15h-8zM56 75h8v15h-8zM80 75h8v15h-8zM40 90h8v15h-8zM48 90h8v15h-8zM56 90h8v15h-8zM72 90h8v15h-8zM96 90h8v15h-8zM32 105h8v15h-8zM48 105h8v15h-8zM56 105h8v15h-8zM64 105h8v15h-8zM112 105h8v15h-8zM120 105h8v15h-8zM40 120h8v15h-8zM48 120h8v15h-8zM112 120h8v15h-8zM16 150h8v15h-8zM96 150h8v15h-8zM104 150h8v15h-8zM72 180h8v15h-8zM72 240h8v15h-8zM88 240h8v15h-8zM104 240h8v15h-8zM112 240h8v15h-8zM48 255h8v15h-8zM56 255h8v15h-8zM72 255h8v15h-8zM88 255h8v15h-8zM104 255h8v15h-8zM128 270h8v15h-8zM120 285h8v15h-8zM16 315h8v15h-8zM-20 330h28v15h-28zM16 330h8v15h-8zM8 345h8v15h-8zM72 390h8v15h-8zM72 405h8v15h-8zM56 435h8v15h-8zM72 435h8v15h-8z"/></g></mask><mask id="m0B" maskUnits="userSpaceOnUse" x="-30" y="-20" width="230" height="565"><g filter="url(#warp)"><path fill="#fff" d="M56 -10h8v25h-8zM48 30h8v15h-8zM40 45h8v15h-8zM56 45h8v15h-8zM48 60h8v15h-8zM48 75h8v15h-8zM88 75h8v15h-8zM96 75h8v15h-8zM80 90h8v15h-8zM88 90h8v15h-8zM56 120h8v15h-8zM104 120h8v15h-8zM96 135h8v15h-8zM56 165h8v15h-8zM80 180h8v15h-8zM64 240h8v15h-8zM80 240h8v15h-8zM96 240h8v15h-8zM64 255h8v15h-8zM80 255h8v15h-8zM96 255h8v15h-8zM-20 270h28v15h-28zM120 270h8v15h-8zM40 285h8v15h-8zM48 285h8v15h-8zM112 285h8v15h-8zM48 300h8v15h-8zM104 300h8v15h-8zM112 300h8v15h-8zM24 315h8v15h-8zM24 330h8v15h-8zM88 405h8v15h-8zM96 405h8v15h-8zM120 420h8v15h-8zM128 420h8v15h-8zM120 435h8v15h-8zM96 450h8v15h-8zM112 450h8v15h-8zM136 450h8v15h-8zM96 465h8v15h-8zM120 465h8v15h-8zM64 480h8v15h-8zM88 480h8v15h-8zM128 480h8v15h-8zM72 495h8v15h-8zM88 495h8v15h-8zM120 495h8v15h-8zM136 495h8v15h-8zM144 495h8v15h-8zM152 495h38v15h-38zM128 510h8v30h-8zM136 510h8v30h-8zM144 510h8v30h-8zM152 510h38v30h-38z"/></g></mask><mask id="m0Q" maskUnits="userSpaceOnUse" x="-30" y="-20" width="230" height="565"><g filter="url(#warp)"><path fill="#fff" d="M72 -10h8v25h-8zM80 -10h8v25h-8zM64 15h8v15h-8zM88 15h8v15h-8zM72 30h8v15h-8zM88 30h8v15h-8zM72 45h8v15h-8zM88 45h8v15h-8zM72 60h8v15h-8zM16 75h8v15h-8zM112 90h8v15h-8zM80 105h8v15h-8zM-20 195h28v15h-28zM-20 255h28v15h-28zM-20 315h28v15h-28zM8 315h8v15h-8zM88 315h8v15h-8zM96 315h8v15h-8zM8 330h8v15h-8zM-20 345h28v15h-28zM16 345h8v15h-8zM-20 360h28v15h-28zM8 360h8v15h-8zM16 375h8v15h-8zM64 390h8v15h-8zM80 390h8v15h-8zM-20 405h28v15h-28zM8 405h8v15h-8zM24 420h8v15h-8zM16 435h8v15h-8z"/></g></mask><mask id="m0N" maskUnits="userSpaceOnUse" x="-30" y="-20" width="230" height="565"><g filter="url(#warp)"><path fill="#fff" d="M-20 15h28v15h-28zM112 15h8v15h-8zM120 15h8v15h-8zM136 15h8v15h-8zM144 15h8v15h-8zM152 15h38v15h-38zM-20 30h28v15h-28zM112 30h8v15h-8zM144 30h8v15h-8zM152 30h38v15h-38zM-20 45h28v15h-28zM136 45h8v15h-8zM144 45h8v15h-8zM152 45h38v15h-38zM-20 60h28v15h-28zM144 60h8v15h-8zM152 60h38v15h-38zM-20 75h28v15h-28zM136 75h8v15h-8zM144 75h8v15h-8zM152 75h38v15h-38zM-20 90h28v15h-28zM-20 105h28v15h-28zM-20 120h28v15h-28zM152 120h38v15h-38zM-20 135h28v15h-28zM120 135h8v15h-8zM136 135h8v15h-8zM144 135h8v15h-8zM152 135h38v15h-38zM32 150h8v15h-8zM40 150h8v15h-8zM32 165h8v15h-8zM40 165h8v15h-8zM24 180h8v15h-8zM32 180h8v15h-8zM40 180h8v15h-8zM96 195h8v15h-8zM104 195h8v15h-8zM112 195h8v15h-8zM120 195h8v15h-8zM128 195h8v15h-8zM136 195h8v15h-8zM144 195h8v15h-8zM152 195h38v15h-38zM8 210h8v15h-8zM16 210h8v15h-8zM24 210h8v15h-8zM32 210h8v15h-8zM40 210h8v15h-8zM48 210h8v15h-8zM72 210h8v15h-8zM80 210h8v15h-8zM88 210h8v15h-8zM96 210h8v15h-8zM104 210h8v15h-8zM112 210h8v15h-8zM120 210h8v15h-8zM128 210h8v15h-8zM136 210h8v15h-8zM144 210h8v15h-8zM152 210h38v15h-38zM8 225h8v15h-8zM16 225h8v15h-8zM24 225h8v15h-8zM32 225h8v15h-8zM40 225h8v15h-8zM48 225h8v15h-8zM56 225h8v15h-8zM64 225h8v15h-8zM72 225h8v15h-8zM80 225h8v15h-8zM88 225h8v15h-8zM96 225h8v15h-8zM104 225h8v15h-8zM112 225h8v15h-8zM120 225h8v15h-8zM128 225h8v15h-8zM136 225h8v15h-8zM152 225h38v15h-38zM8 240h8v15h-8zM16 240h8v15h-8zM24 240h8v15h-8zM32 240h8v15h-8zM40 240h8v15h-8zM48 240h8v15h-8zM128 240h8v15h-8zM136 240h8v15h-8zM144 240h8v15h-8zM24 255h8v15h-8zM120 255h8v15h-8zM128 255h8v15h-8zM16 270h8v15h-8zM24 270h8v15h-8zM32 270h8v15h-8zM144 270h8v15h-8zM152 270h38v15h-38zM8 285h8v15h-8zM16 285h8v15h-8zM24 285h8v15h-8zM144 285h8v15h-8zM152 285h38v15h-38zM32 300h8v15h-8zM136 300h8v15h-8zM32 315h8v15h-8zM32 330h8v15h-8zM56 330h8v15h-8zM64 330h8v15h-8zM112 330h8v15h-8zM120 330h8v15h-8zM128 330h8v15h-8zM144 330h8v15h-8zM152 330h38v15h-38zM32 345h8v15h-8zM40 345h8v15h-8zM56 345h8v15h-8zM152 345h38v15h-38zM32 360h8v15h-8zM40 360h8v15h-8zM144 360h8v15h-8zM152 360h38v15h-38zM32 375h8v15h-8zM40 375h8v15h-8zM144 375h8v15h-8zM32 390h8v15h-8zM40 390h8v15h-8zM48 390h8v15h-8zM56 390h8v15h-8zM144 390h8v15h-8zM152 390h38v15h-38zM24 405h8v15h-8zM32 405h8v15h-8zM40 405h8v15h-8zM48 405h8v15h-8zM56 405h8v15h-8zM-20 420h28v15h-28zM8 420h8v15h-8zM32 420h8v15h-8zM40 420h8v15h-8zM48 420h8v15h-8zM-20 435h28v15h-28zM8 435h8v15h-8zM40 435h8v15h-8zM48 435h8v15h-8zM-20 450h28v15h-28zM8 450h8v15h-8zM48 450h8v15h-8zM56 450h8v15h-8zM-20 465h28v15h-28zM8 465h8v15h-8zM32 465h8v15h-8zM48 465h8v15h-8zM-20 480h28v15h-28zM8 480h8v15h-8zM-20 495h28v15h-28zM8 495h8v15h-8zM24 495h8v15h-8zM-20 510h28v30h-28zM8 510h8v30h-8zM16 510h8v30h-8zM24 510h8v30h-8zM32 510h8v30h-8zM40 510h8v30h-8zM48 510h8v30h-8zM56 510h8v30h-8zM64 510h8v30h-8z"/></g></mask><mask id="m0P" maskUnits="userSpaceOnUse" x="-30" y="-20" width="230" height="565"><g filter="url(#warp)"><path fill="#fff" d="M32 15h8v15h-8zM40 15h8v15h-8zM32 30h8v15h-8zM40 30h8v15h-8zM24 75h8v15h-8zM32 75h8v15h-8zM40 75h8v15h-8zM24 90h8v15h-8zM32 90h8v15h-8zM40 105h8v15h-8zM32 120h8v15h-8zM24 135h8v15h-8zM32 135h8v15h-8zM24 150h8v15h-8zM8 165h8v15h-8zM24 165h8v15h-8zM112 165h8v15h-8zM8 180h8v15h-8zM104 180h8v15h-8zM8 195h8v15h-8zM16 195h8v15h-8zM24 195h8v15h-8zM32 195h8v15h-8zM40 195h8v15h-8zM48 195h8v15h-8zM56 195h8v15h-8zM64 195h8v15h-8zM80 195h8v15h-8zM88 195h8v15h-8zM56 240h8v15h-8zM32 255h8v15h-8zM40 255h8v15h-8z"/></g></mask><mask id="m0O" maskUnits="userSpaceOnUse" x="-30" y="-20" width="230" height="565"><g filter="url(#warp)"><path fill="#fff" d="M72 15h8v15h-8zM80 15h8v15h-8zM80 30h8v15h-8zM64 45h8v15h-8zM96 60h8v15h-8zM104 60h8v15h-8zM72 75h8v15h-8zM88 105h8v15h-8zM72 120h8v15h-8zM64 135h8v15h-8zM72 135h8v15h-8zM80 135h8v15h-8zM-20 165h28v15h-28zM80 270h8v15h-8zM88 270h8v15h-8zM96 270h8v15h-8zM104 270h8v15h-8zM72 285h8v15h-8zM80 285h8v15h-8zM88 285h8v15h-8zM96 285h8v15h-8zM72 300h8v15h-8zM80 300h8v15h-8zM88 300h8v15h-8zM72 315h8v15h-8zM80 315h8v15h-8zM88 330h8v15h-8zM96 330h8v15h-8zM80 345h8v15h-8zM88 345h8v15h-8zM96 345h8v15h-8zM104 345h8v15h-8zM136 345h8v15h-8zM88 360h8v15h-8zM96 360h8v15h-8zM104 360h8v15h-8zM-20 375h28v15h-28zM88 375h8v15h-8zM96 375h8v15h-8zM104 375h8v15h-8zM88 390h8v15h-8zM96 390h8v15h-8zM104 390h8v15h-8zM120 405h8v15h-8zM144 405h8v15h-8zM152 405h38v15h-38zM104 420h8v15h-8zM144 420h8v15h-8zM152 420h38v15h-38zM104 435h8v15h-8zM144 435h8v15h-8zM152 435h38v15h-38zM152 465h38v15h-38zM16 480h8v15h-8z"/></g></mask><mask id="m0H" maskUnits="userSpaceOnUse" x="-30" y="-20" width="230" height="565"><g filter="url(#warp)"><path fill="#fff" d="M128 15h8v15h-8zM128 75h8v15h-8zM128 90h8v15h-8zM64 150h8v15h-8zM72 150h8v15h-8zM72 165h8v15h-8zM56 180h8v15h-8zM64 180h8v15h-8zM136 330h8v15h-8zM64 375h8v15h-8zM16 420h8v15h-8zM72 420h8v15h-8zM24 450h8v15h-8zM72 450h8v15h-8z"/></g></mask><mask id="m0E" maskUnits="userSpaceOnUse" x="-30" y="-20" width="230" height="565"><g filter="url(#warp)"><path fill="#fff" d="M120 30h8v15h-8zM136 30h8v15h-8zM112 45h8v15h-8zM136 60h8v15h-8zM144 90h8v15h-8zM144 120h8v15h-8zM112 135h8v15h-8zM128 135h8v15h-8zM112 150h8v15h-8zM120 150h8v15h-8zM48 180h8v15h-8zM144 225h8v15h-8zM152 240h38v15h-38zM136 255h8v15h-8zM152 255h38v15h-38zM136 285h8v15h-8zM120 300h8v15h-8zM128 300h8v15h-8zM144 300h8v15h-8zM152 300h38v15h-38zM128 315h8v15h-8zM152 315h38v15h-38zM40 330h8v15h-8zM72 345h8v15h-8zM48 360h8v15h-8zM56 360h8v15h-8zM48 375h8v15h-8zM56 375h8v15h-8zM72 375h8v15h-8zM64 420h8v15h-8z"/></g></mask><mask id="m0G" maskUnits="userSpaceOnUse" x="-30" y="-20" width="230" height="565"><g filter="url(#warp)"><path fill="#fff" d="M128 30h8v15h-8zM152 105h38v15h-38zM144 150h8v15h-8zM152 150h38v15h-38zM64 165h8v15h-8zM144 165h8v15h-8zM152 165h38v15h-38zM144 180h8v15h-8zM152 180h38v15h-38zM144 255h8v15h-8zM136 270h8v15h-8zM128 285h8v15h-8zM144 315h8v15h-8zM48 345h8v15h-8zM64 360h8v15h-8z"/></g></mask><mask id="m0Y" maskUnits="userSpaceOnUse" x="-30" y="-20" width="230" height="565"><g filter="url(#warp)"><path fill="#fff" d="M24 45h8v15h-8zM120 45h8v15h-8zM128 45h8v15h-8zM24 60h8v15h-8zM64 60h8v15h-8zM120 60h8v15h-8zM128 60h8v15h-8zM112 75h8v15h-8zM120 75h8v15h-8zM120 90h8v15h-8zM152 90h38v15h-38zM128 105h8v15h-8zM144 105h8v15h-8zM120 120h8v15h-8zM128 120h8v15h-8zM136 120h8v15h-8zM-20 150h28v15h-28zM128 150h8v15h-8zM136 150h8v15h-8zM136 165h8v15h-8zM136 180h8v15h-8zM48 330h8v15h-8zM64 345h8v15h-8zM72 360h8v15h-8zM80 360h8v15h-8zM32 450h8v15h-8zM40 450h8v15h-8zM64 450h8v15h-8z"/></g></mask><mask id="m0R" maskUnits="userSpaceOnUse" x="-30" y="-20" width="230" height="565"><g filter="url(#warp)"><path fill="#fff" d="M136 90h8v15h-8zM8 150h8v15h-8zM16 165h8v15h-8zM120 165h8v15h-8zM128 165h8v15h-8zM16 180h8v15h-8zM112 180h8v15h-8zM120 180h8v15h-8zM128 180h8v15h-8z"/></g></mask><mask id="m0D" maskUnits="userSpaceOnUse" x="-30" y="-20" width="230" height="565"><g filter="url(#warp)"><path fill="#fff" d="M40 135h8v15h-8zM48 135h8v15h-8zM104 135h8v15h-8zM48 150h8v15h-8zM56 150h8v15h-8zM48 165h8v15h-8zM72 195h8v15h-8zM56 210h8v15h-8zM64 210h8v15h-8zM120 240h8v15h-8zM16 255h8v15h-8zM112 255h8v15h-8zM8 270h8v15h-8zM40 270h8v15h-8zM-20 285h28v15h-28zM32 285h8v15h-8zM40 300h8v15h-8zM56 315h8v15h-8zM112 315h8v15h-8zM120 315h8v15h-8zM136 315h8v15h-8zM72 330h8v15h-8zM120 345h8v15h-8zM152 375h38v15h-38zM128 405h8v15h-8zM56 420h8v15h-8zM80 450h8v15h-8zM56 465h8v15h-8zM72 465h8v15h-8zM136 465h8v15h-8zM48 480h8v15h-8zM32 495h8v15h-8zM40 495h8v15h-8zM48 495h8v15h-8zM72 510h8v30h-8zM80 510h8v30h-8zM88 510h8v30h-8zM96 510h8v30h-8zM104 510h8v30h-8zM112 510h8v30h-8zM120 510h8v30h-8z"/></g></mask></defs>
<g filter="url(#soft)"><g clip-path="url(#cp0)"><g transform="matrix(1,0,0.343,1,-2.9,0)">
<g filter="url(#warp)"><path fill="#1c6cb4" d="M-20 -10h28v25h-28zM8 15h8v15h-8zM104 30h8v15h-8zM24 300h8v15h-8zM40 315h8v15h-8zM24 390h8v15h-8zM16 405h8v15h-8zM32 435h8v15h-8zM64 435h8v15h-8zM24 465h8v15h-8z"/><path fill="#2acadf" d="M8 -10h8v25h-8zM16 -10h8v25h-8zM24 -10h8v25h-8zM88 -10h8v25h-8zM96 -10h8v25h-8zM104 -10h8v25h-8zM120 -10h8v25h-8zM16 15h8v15h-8zM24 15h8v15h-8zM96 15h8v15h-8zM104 15h8v15h-8zM8 30h8v15h-8zM16 30h8v15h-8zM24 30h8v15h-8zM96 30h8v15h-8zM8 45h8v15h-8zM16 45h8v15h-8zM80 45h8v15h-8zM8 60h8v15h-8zM16 60h8v15h-8zM8 75h8v15h-8zM8 90h8v15h-8zM16 90h8v15h-8zM8 105h8v15h-8zM16 105h8v15h-8zM24 105h8v15h-8zM8 120h8v15h-8zM16 120h8v15h-8zM24 120h8v15h-8zM8 135h8v15h-8zM16 135h8v15h-8zM-20 300h28v15h-28zM8 300h8v15h-8zM16 300h8v15h-8zM8 375h8v15h-8zM-20 390h28v15h-28zM8 390h8v15h-8zM16 390h8v15h-8zM64 405h8v15h-8zM24 435h8v15h-8zM16 450h8v15h-8z"/><path fill="#7d6d8e" d="M32 -10h8v25h-8zM40 -10h8v25h-8zM32 45h8v15h-8zM96 45h8v15h-8zM104 45h8v15h-8zM32 60h8v15h-8zM40 60h8v15h-8zM56 60h8v15h-8zM80 60h8v15h-8zM112 60h8v15h-8zM64 75h8v15h-8zM104 75h8v15h-8zM64 90h8v15h-8zM104 90h8v15h-8zM72 105h8v15h-8zM96 105h8v15h-8zM104 105h8v15h-8zM136 105h8v15h-8zM64 120h8v15h-8zM80 120h8v15h-8zM88 120h8v15h-8zM96 120h8v15h-8zM56 135h8v15h-8zM88 135h8v15h-8zM80 150h8v15h-8zM88 150h8v15h-8zM80 165h8v15h-8zM88 165h8v15h-8zM96 165h8v15h-8zM104 165h8v15h-8zM-20 180h28v15h-28zM88 180h8v15h-8zM96 180h8v15h-8zM-20 210h28v15h-28zM-20 225h28v15h-28zM-20 240h28v15h-28zM8 255h8v15h-8zM48 270h8v15h-8zM56 270h8v15h-8zM64 270h8v15h-8zM72 270h8v15h-8zM112 270h8v15h-8zM56 285h8v15h-8zM64 285h8v15h-8zM104 285h8v15h-8zM56 300h8v15h-8zM64 300h8v15h-8zM96 300h8v15h-8zM48 315h8v15h-8zM64 315h8v15h-8zM104 315h8v15h-8zM80 330h8v15h-8zM104 330h8v15h-8zM24 345h8v15h-8zM112 345h8v15h-8zM128 345h8v15h-8zM144 345h8v15h-8zM16 360h8v15h-8zM24 360h8v15h-8zM112 360h8v15h-8zM120 360h8v15h-8zM128 360h8v15h-8zM136 360h8v15h-8zM24 375h8v15h-8zM80 375h8v15h-8zM112 375h8v15h-8zM120 375h8v15h-8zM128 375h8v15h-8zM136 375h8v15h-8zM112 390h8v15h-8zM120 390h8v15h-8zM128 390h8v15h-8zM136 390h8v15h-8zM80 405h8v15h-8zM104 405h8v15h-8zM112 405h8v15h-8zM136 405h8v15h-8zM80 420h8v15h-8zM88 420h8v15h-8zM96 420h8v15h-8zM112 420h8v15h-8zM136 420h8v15h-8zM80 435h8v15h-8zM88 435h8v15h-8zM96 435h8v15h-8zM112 435h8v15h-8zM128 435h8v15h-8zM136 435h8v15h-8zM88 450h8v15h-8zM104 450h8v15h-8zM120 450h8v15h-8zM128 450h8v15h-8zM144 450h8v15h-8zM152 450h38v15h-38zM16 465h8v15h-8zM40 465h8v15h-8zM64 465h8v15h-8zM80 465h8v15h-8zM88 465h8v15h-8zM104 465h8v15h-8zM112 465h8v15h-8zM128 465h8v15h-8zM144 465h8v15h-8zM24 480h8v15h-8zM32 480h8v15h-8zM40 480h8v15h-8zM56 480h8v15h-8zM72 480h8v15h-8zM80 480h8v15h-8zM96 480h8v15h-8zM104 480h8v15h-8zM112 480h8v15h-8zM120 480h8v15h-8zM136 480h8v15h-8zM144 480h8v15h-8zM152 480h38v15h-38zM16 495h8v15h-8zM56 495h8v15h-8zM64 495h8v15h-8zM80 495h8v15h-8zM96 495h8v15h-8zM104 495h8v15h-8zM112 495h8v15h-8zM128 495h8v15h-8z"/><path fill="#2692e5" d="M48 -10h8v25h-8zM64 -10h8v25h-8zM112 -10h8v25h-8zM128 -10h8v25h-8zM136 -10h8v25h-8zM144 -10h8v25h-8zM152 -10h38v25h-38zM48 15h8v15h-8zM56 15h8v15h-8zM56 30h8v15h-8zM64 30h8v15h-8zM48 45h8v15h-8zM88 60h8v15h-8zM56 75h8v15h-8zM80 75h8v15h-8zM40 90h8v15h-8zM48 90h8v15h-8zM56 90h8v15h-8zM72 90h8v15h-8zM96 90h8v15h-8zM32 105h8v15h-8zM48 105h8v15h-8zM56 105h8v15h-8zM64 105h8v15h-8zM112 105h8v15h-8zM120 105h8v15h-8zM40 120h8v15h-8zM48 120h8v15h-8zM112 120h8v15h-8zM16 150h8v15h-8zM96 150h8v15h-8zM104 150h8v15h-8zM72 180h8v15h-8zM72 240h8v15h-8zM88 240h8v15h-8zM104 240h8v15h-8zM112 240h8v15h-8zM48 255h8v15h-8zM56 255h8v15h-8zM72 255h8v15h-8zM88 255h8v15h-8zM104 255h8v15h-8zM128 270h8v15h-8zM120 285h8v15h-8zM16 315h8v15h-8zM-20 330h28v15h-28zM16 330h8v15h-8zM8 345h8v15h-8zM72 390h8v15h-8zM72 405h8v15h-8zM56 435h8v15h-8zM72 435h8v15h-8z"/><path fill="#1e52d5" d="M56 -10h8v25h-8zM48 30h8v15h-8zM40 45h8v15h-8zM56 45h8v15h-8zM48 60h8v15h-8zM48 75h8v15h-8zM88 75h8v15h-8zM96 75h8v15h-8zM80 90h8v15h-8zM88 90h8v15h-8zM56 120h8v15h-8zM104 120h8v15h-8zM96 135h8v15h-8zM56 165h8v15h-8zM80 180h8v15h-8zM64 240h8v15h-8zM80 240h8v15h-8zM96 240h8v15h-8zM64 255h8v15h-8zM80 255h8v15h-8zM96 255h8v15h-8zM-20 270h28v15h-28zM120 270h8v15h-8zM40 285h8v15h-8zM48 285h8v15h-8zM112 285h8v15h-8zM48 300h8v15h-8zM104 300h8v15h-8zM112 300h8v15h-8zM24 315h8v15h-8zM24 330h8v15h-8zM88 405h8v15h-8zM96 405h8v15h-8zM120 420h8v15h-8zM128 420h8v15h-8zM120 435h8v15h-8zM96 450h8v15h-8zM112 450h8v15h-8zM136 450h8v15h-8zM96 465h8v15h-8zM120 465h8v15h-8zM64 480h8v15h-8zM88 480h8v15h-8zM128 480h8v15h-8zM72 495h8v15h-8zM88 495h8v15h-8zM120 495h8v15h-8zM136 495h8v15h-8zM144 495h8v15h-8zM152 495h38v15h-38zM128 510h8v30h-8zM136 510h8v30h-8zM144 510h8v30h-8zM152 510h38v30h-38z"/><path fill="#6fa49c" d="M72 -10h8v25h-8zM80 -10h8v25h-8zM64 15h8v15h-8zM88 15h8v15h-8zM72 30h8v15h-8zM88 30h8v15h-8zM72 45h8v15h-8zM88 45h8v15h-8zM72 60h8v15h-8zM16 75h8v15h-8zM112 90h8v15h-8zM80 105h8v15h-8zM-20 195h28v15h-28zM-20 255h28v15h-28zM-20 315h28v15h-28zM8 315h8v15h-8zM88 315h8v15h-8zM96 315h8v15h-8zM8 330h8v15h-8zM-20 345h28v15h-28zM16 345h8v15h-8zM-20 360h28v15h-28zM8 360h8v15h-8zM16 375h8v15h-8zM64 390h8v15h-8zM80 390h8v15h-8zM-20 405h28v15h-28zM8 405h8v15h-8zM24 420h8v15h-8zM16 435h8v15h-8z"/><path fill="#0e1489" d="M-20 15h28v15h-28zM112 15h8v15h-8zM120 15h8v15h-8zM136 15h8v15h-8zM144 15h8v15h-8zM152 15h38v15h-38zM-20 30h28v15h-28zM112 30h8v15h-8zM144 30h8v15h-8zM152 30h38v15h-38zM-20 45h28v15h-28zM136 45h8v15h-8zM144 45h8v15h-8zM152 45h38v15h-38zM-20 60h28v15h-28zM144 60h8v15h-8zM152 60h38v15h-38zM-20 75h28v15h-28zM136 75h8v15h-8zM144 75h8v15h-8zM152 75h38v15h-38zM-20 90h28v15h-28zM-20 105h28v15h-28zM-20 120h28v15h-28zM152 120h38v15h-38zM-20 135h28v15h-28zM120 135h8v15h-8zM136 135h8v15h-8zM144 135h8v15h-8zM152 135h38v15h-38zM32 150h8v15h-8zM40 150h8v15h-8zM32 165h8v15h-8zM40 165h8v15h-8zM24 180h8v15h-8zM32 180h8v15h-8zM40 180h8v15h-8zM96 195h8v15h-8zM104 195h8v15h-8zM112 195h8v15h-8zM120 195h8v15h-8zM128 195h8v15h-8zM136 195h8v15h-8zM144 195h8v15h-8zM152 195h38v15h-38zM8 210h8v15h-8zM16 210h8v15h-8zM24 210h8v15h-8zM32 210h8v15h-8zM40 210h8v15h-8zM48 210h8v15h-8zM72 210h8v15h-8zM80 210h8v15h-8zM88 210h8v15h-8zM96 210h8v15h-8zM104 210h8v15h-8zM112 210h8v15h-8zM120 210h8v15h-8zM128 210h8v15h-8zM136 210h8v15h-8zM144 210h8v15h-8zM152 210h38v15h-38zM8 225h8v15h-8zM16 225h8v15h-8zM24 225h8v15h-8zM32 225h8v15h-8zM40 225h8v15h-8zM48 225h8v15h-8zM56 225h8v15h-8zM64 225h8v15h-8zM72 225h8v15h-8zM80 225h8v15h-8zM88 225h8v15h-8zM96 225h8v15h-8zM104 225h8v15h-8zM112 225h8v15h-8zM120 225h8v15h-8zM128 225h8v15h-8zM136 225h8v15h-8zM152 225h38v15h-38zM8 240h8v15h-8zM16 240h8v15h-8zM24 240h8v15h-8zM32 240h8v15h-8zM40 240h8v15h-8zM48 240h8v15h-8zM128 240h8v15h-8zM136 240h8v15h-8zM144 240h8v15h-8zM24 255h8v15h-8zM120 255h8v15h-8zM128 255h8v15h-8zM16 270h8v15h-8zM24 270h8v15h-8zM32 270h8v15h-8zM144 270h8v15h-8zM152 270h38v15h-38zM8 285h8v15h-8zM16 285h8v15h-8zM24 285h8v15h-8zM144 285h8v15h-8zM152 285h38v15h-38zM32 300h8v15h-8zM136 300h8v15h-8zM32 315h8v15h-8zM32 330h8v15h-8zM56 330h8v15h-8zM64 330h8v15h-8zM112 330h8v15h-8zM120 330h8v15h-8zM128 330h8v15h-8zM144 330h8v15h-8zM152 330h38v15h-38zM32 345h8v15h-8zM40 345h8v15h-8zM56 345h8v15h-8zM152 345h38v15h-38zM32 360h8v15h-8zM40 360h8v15h-8zM144 360h8v15h-8zM152 360h38v15h-38zM32 375h8v15h-8zM40 375h8v15h-8zM144 375h8v15h-8zM32 390h8v15h-8zM40 390h8v15h-8zM48 390h8v15h-8zM56 390h8v15h-8zM144 390h8v15h-8zM152 390h38v15h-38zM24 405h8v15h-8zM32 405h8v15h-8zM40 405h8v15h-8zM48 405h8v15h-8zM56 405h8v15h-8zM-20 420h28v15h-28zM8 420h8v15h-8zM32 420h8v15h-8zM40 420h8v15h-8zM48 420h8v15h-8zM-20 435h28v15h-28zM8 435h8v15h-8zM40 435h8v15h-8zM48 435h8v15h-8zM-20 450h28v15h-28zM8 450h8v15h-8zM48 450h8v15h-8zM56 450h8v15h-8zM-20 465h28v15h-28zM8 465h8v15h-8zM32 465h8v15h-8zM48 465h8v15h-8zM-20 480h28v15h-28zM8 480h8v15h-8zM-20 495h28v15h-28zM8 495h8v15h-8zM24 495h8v15h-8zM-20 510h28v30h-28zM8 510h8v30h-8zM16 510h8v30h-8zM24 510h8v30h-8zM32 510h8v30h-8zM40 510h8v30h-8zM48 510h8v30h-8zM56 510h8v30h-8zM64 510h8v30h-8z"/><path fill="#602a74" d="M32 15h8v15h-8zM40 15h8v15h-8zM32 30h8v15h-8zM40 30h8v15h-8zM24 75h8v15h-8zM32 75h8v15h-8zM40 75h8v15h-8zM24 90h8v15h-8zM32 90h8v15h-8zM40 105h8v15h-8zM32 120h8v15h-8zM24 135h8v15h-8zM32 135h8v15h-8zM24 150h8v15h-8zM8 165h8v15h-8zM24 165h8v15h-8zM112 165h8v15h-8zM8 180h8v15h-8zM104 180h8v15h-8zM8 195h8v15h-8zM16 195h8v15h-8zM24 195h8v15h-8zM32 195h8v15h-8zM40 195h8v15h-8zM48 195h8v15h-8zM56 195h8v15h-8zM64 195h8v15h-8zM80 195h8v15h-8zM88 195h8v15h-8zM56 240h8v15h-8zM32 255h8v15h-8zM40 255h8v15h-8z"/><path fill="#d4973f" d="M72 15h8v15h-8zM80 15h8v15h-8zM80 30h8v15h-8zM64 45h8v15h-8zM96 60h8v15h-8zM104 60h8v15h-8zM72 75h8v15h-8zM88 105h8v15h-8zM72 120h8v15h-8zM64 135h8v15h-8zM72 135h8v15h-8zM80 135h8v15h-8zM-20 165h28v15h-28zM80 270h8v15h-8zM88 270h8v15h-8zM96 270h8v15h-8zM104 270h8v15h-8zM72 285h8v15h-8zM80 285h8v15h-8zM88 285h8v15h-8zM96 285h8v15h-8zM72 300h8v15h-8zM80 300h8v15h-8zM88 300h8v15h-8zM72 315h8v15h-8zM80 315h8v15h-8zM88 330h8v15h-8zM96 330h8v15h-8zM80 345h8v15h-8zM88 345h8v15h-8zM96 345h8v15h-8zM104 345h8v15h-8zM136 345h8v15h-8zM88 360h8v15h-8zM96 360h8v15h-8zM104 360h8v15h-8zM-20 375h28v15h-28zM88 375h8v15h-8zM96 375h8v15h-8zM104 375h8v15h-8zM88 390h8v15h-8zM96 390h8v15h-8zM104 390h8v15h-8zM120 405h8v15h-8zM144 405h8v15h-8zM152 405h38v15h-38zM104 420h8v15h-8zM144 420h8v15h-8zM152 420h38v15h-38zM104 435h8v15h-8zM144 435h8v15h-8zM152 435h38v15h-38zM152 465h38v15h-38zM16 480h8v15h-8z"/><path fill="#5fd0a7" d="M128 15h8v15h-8zM128 75h8v15h-8zM128 90h8v15h-8zM64 150h8v15h-8zM72 150h8v15h-8zM72 165h8v15h-8zM56 180h8v15h-8zM64 180h8v15h-8zM136 330h8v15h-8zM64 375h8v15h-8zM16 420h8v15h-8zM72 420h8v15h-8zM24 450h8v15h-8zM72 450h8v15h-8z"/><path fill="#42627f" d="M120 30h8v15h-8zM136 30h8v15h-8zM112 45h8v15h-8zM136 60h8v15h-8zM144 90h8v15h-8zM144 120h8v15h-8zM112 135h8v15h-8zM128 135h8v15h-8zM112 150h8v15h-8zM120 150h8v15h-8zM48 180h8v15h-8zM144 225h8v15h-8zM152 240h38v15h-38zM136 255h8v15h-8zM152 255h38v15h-38zM136 285h8v15h-8zM120 300h8v15h-8zM128 300h8v15h-8zM144 300h8v15h-8zM152 300h38v15h-38zM128 315h8v15h-8zM152 315h38v15h-38zM40 330h8v15h-8zM72 345h8v15h-8zM48 360h8v15h-8zM56 360h8v15h-8zM48 375h8v15h-8zM56 375h8v15h-8zM72 375h8v15h-8zM64 420h8v15h-8z"/><path fill="#97e770" d="M128 30h8v15h-8zM152 105h38v15h-38zM144 150h8v15h-8zM152 150h38v15h-38zM64 165h8v15h-8zM144 165h8v15h-8zM152 165h38v15h-38zM144 180h8v15h-8zM152 180h38v15h-38zM144 255h8v15h-8zM136 270h8v15h-8zM128 285h8v15h-8zM144 315h8v15h-8zM48 345h8v15h-8zM64 360h8v15h-8z"/><path fill="#d1cd3f" d="M24 45h8v15h-8zM120 45h8v15h-8zM128 45h8v15h-8zM24 60h8v15h-8zM64 60h8v15h-8zM120 60h8v15h-8zM128 60h8v15h-8zM112 75h8v15h-8zM120 75h8v15h-8zM120 90h8v15h-8zM152 90h38v15h-38zM128 105h8v15h-8zM144 105h8v15h-8zM120 120h8v15h-8zM128 120h8v15h-8zM136 120h8v15h-8zM-20 150h28v15h-28zM128 150h8v15h-8zM136 150h8v15h-8zM136 165h8v15h-8zM136 180h8v15h-8zM48 330h8v15h-8zM64 345h8v15h-8zM72 360h8v15h-8zM80 360h8v15h-8zM32 450h8v15h-8zM40 450h8v15h-8zM64 450h8v15h-8z"/><path fill="#ae3d2f" d="M136 90h8v15h-8zM8 150h8v15h-8zM16 165h8v15h-8zM120 165h8v15h-8zM128 165h8v15h-8zM16 180h8v15h-8zM112 180h8v15h-8zM120 180h8v15h-8zM128 180h8v15h-8z"/><path fill="#1633b2" d="M40 135h8v15h-8zM48 135h8v15h-8zM104 135h8v15h-8zM48 150h8v15h-8zM56 150h8v15h-8zM48 165h8v15h-8zM72 195h8v15h-8zM56 210h8v15h-8zM64 210h8v15h-8zM120 240h8v15h-8zM16 255h8v15h-8zM112 255h8v15h-8zM8 270h8v15h-8zM40 270h8v15h-8zM-20 285h28v15h-28zM32 285h8v15h-8zM40 300h8v15h-8zM56 315h8v15h-8zM112 315h8v15h-8zM120 315h8v15h-8zM136 315h8v15h-8zM72 330h8v15h-8zM120 345h8v15h-8zM152 375h38v15h-38zM128 405h8v15h-8zM56 420h8v15h-8zM80 450h8v15h-8zM56 465h8v15h-8zM72 465h8v15h-8zM136 465h8v15h-8zM48 480h8v15h-8zM32 495h8v15h-8zM40 495h8v15h-8zM48 495h8v15h-8zM72 510h8v30h-8zM80 510h8v30h-8zM88 510h8v30h-8zM96 510h8v30h-8zM104 510h8v30h-8zM112 510h8v30h-8zM120 510h8v30h-8z"/></g>
<rect x="-30" y="-20" width="230" height="565" fill="url(#ptT)" mask="url(#m0T)"/>
<rect x="-30" y="-20" width="230" height="565" fill="url(#ptC)" mask="url(#m0C)"/>
<rect x="-30" y="-20" width="230" height="565" fill="url(#ptM)" mask="url(#m0M)"/>
<rect x="-30" y="-20" width="230" height="565" fill="url(#ptA)" mask="url(#m0A)"/>
<rect x="-30" y="-20" width="230" height="565" fill="url(#ptB)" mask="url(#m0B)"/>
<rect x="-30" y="-20" width="230" height="565" fill="url(#ptQ)" mask="url(#m0Q)"/>
<rect x="-30" y="-20" width="230" height="565" fill="url(#ptN)" mask="url(#m0N)"/>
<rect x="-30" y="-20" width="230" height="565" fill="url(#ptP)" mask="url(#m0P)"/>
<rect x="-30" y="-20" width="230" height="565" fill="url(#ptO)" mask="url(#m0O)"/>
<rect x="-30" y="-20" width="230" height="565" fill="url(#ptH)" mask="url(#m0H)"/>
<rect x="-30" y="-20" width="230" height="565" fill="url(#ptE)" mask="url(#m0E)"/>
<rect x="-30" y="-20" width="230" height="565" fill="url(#ptG)" mask="url(#m0G)"/>
<rect x="-30" y="-20" width="230" height="565" fill="url(#ptY)" mask="url(#m0Y)"/>
<rect x="-30" y="-20" width="230" height="565" fill="url(#ptR)" mask="url(#m0R)"/>
<rect x="-30" y="-20" width="230" height="565" fill="url(#ptD)" mask="url(#m0D)"/>
</g></g></g>
<clipPath id="cp1"><polygon points="349.6,2.0 483.6,1.5 490.6,3.0 495.6,6.5 499.1,12.0 502.6,23.0 508.6,43.0 512.1,53.5 517.6,56.0 526.6,58.3 530.6,63.5 684.6,505.0 684.1,509.5 667.6,512.5 609.6,516.5 549.6,517.0 543.6,516.8 536.2,512.8 528.2,505.5 523.1,498.3 515.8,483.7 510.7,469.0 505.6,454.6 500.5,440.0 494.6,430.0 349.6,8.5"/></clipPath>
<defs><mask id="m1T" maskUnits="userSpaceOnUse" x="-30" y="-20" width="230" height="565"><g filter="url(#warp)"><path fill="#fff" d="M-20 -10h28v25h-28zM8 45h8v15h-8zM136 45h8v15h-8zM8 60h8v15h-8zM136 60h8v15h-8zM8 90h8v15h-8zM-20 210h28v15h-28zM24 390h8v15h-8zM8 405h8v15h-8zM24 405h8v15h-8zM32 435h8v15h-8z"/></g></mask><mask id="m1C" maskUnits="userSpaceOnUse" x="-30" y="-20" width="230" height="565"><g filter="url(#warp)"><path fill="#fff" d="M8 -10h8v25h-8zM16 -10h8v25h-8zM24 -10h8v25h-8zM56 -10h8v25h-8zM88 -10h8v25h-8zM128 -10h8v25h-8zM136 -10h8v25h-8zM144 -10h8v25h-8zM152 -10h38v25h-38zM8 15h8v15h-8zM16 15h8v15h-8zM24 15h8v15h-8zM96 15h8v15h-8zM8 30h8v15h-8zM16 30h8v15h-8zM24 30h8v15h-8zM16 45h8v15h-8zM24 45h8v15h-8zM16 60h8v15h-8zM24 60h8v15h-8zM16 75h8v15h-8zM24 75h8v15h-8zM120 75h8v15h-8zM16 90h8v15h-8zM24 90h8v15h-8zM56 90h8v15h-8zM8 105h8v15h-8zM16 105h8v15h-8zM24 105h8v15h-8zM56 105h8v15h-8zM8 120h8v15h-8zM16 120h8v15h-8zM8 135h8v15h-8zM-20 300h28v15h-28zM8 300h8v15h-8zM16 360h8v15h-8zM8 375h8v15h-8zM16 375h8v15h-8zM8 390h8v15h-8zM16 390h8v15h-8zM16 405h8v15h-8zM16 435h8v15h-8zM24 435h8v15h-8zM16 450h8v15h-8z"/></g></mask><mask id="m1A" maskUnits="userSpaceOnUse" x="-30" y="-20" width="230" height="565"><g filter="url(#warp)"><path fill="#fff" d="M32 -10h8v25h-8zM40 -10h8v25h-8zM48 -10h8v25h-8zM64 -10h8v25h-8zM80 -10h8v25h-8zM96 -10h8v25h-8zM104 -10h8v25h-8zM120 -10h8v25h-8zM40 15h8v15h-8zM48 15h8v15h-8zM64 15h8v15h-8zM72 15h8v15h-8zM88 15h8v15h-8zM104 15h8v15h-8zM144 15h8v15h-8zM152 15h38v15h-38zM48 30h8v15h-8zM64 30h8v15h-8zM80 30h8v15h-8zM96 30h8v15h-8zM144 30h8v15h-8zM152 30h38v15h-38zM56 45h8v15h-8zM72 45h8v15h-8zM104 45h8v15h-8zM144 45h8v15h-8zM152 45h38v15h-38zM80 60h8v15h-8zM120 60h8v15h-8zM48 75h8v15h-8zM64 75h8v15h-8zM112 75h8v15h-8zM40 90h8v15h-8zM48 90h8v15h-8zM64 90h8v15h-8zM72 90h8v15h-8zM88 90h8v15h-8zM104 90h8v15h-8zM120 90h8v15h-8zM48 105h8v15h-8zM64 105h8v15h-8zM96 105h8v15h-8zM104 105h8v15h-8zM112 105h8v15h-8zM120 105h8v15h-8zM128 105h8v15h-8zM136 105h8v15h-8zM40 120h8v15h-8zM48 120h8v15h-8zM72 120h8v15h-8zM88 120h8v15h-8zM104 120h8v15h-8zM120 120h8v15h-8zM16 135h8v15h-8zM16 150h8v15h-8zM80 150h8v15h-8zM88 150h8v15h-8zM96 150h8v15h-8zM96 165h8v15h-8zM112 165h8v15h-8zM64 180h8v15h-8zM96 180h8v15h-8zM104 180h8v15h-8zM64 240h8v15h-8zM88 240h8v15h-8zM96 240h8v15h-8zM8 255h8v15h-8zM48 255h8v15h-8zM56 255h8v15h-8zM64 255h8v15h-8zM80 255h8v15h-8zM96 255h8v15h-8zM-20 270h28v15h-28zM120 285h8v15h-8zM16 300h8v15h-8zM56 300h8v15h-8zM-20 315h28v15h-28zM8 315h8v15h-8zM16 315h8v15h-8zM48 315h8v15h-8zM88 315h8v15h-8zM128 315h8v15h-8zM136 315h8v15h-8zM-20 330h28v15h-28zM8 330h8v15h-8zM16 330h8v15h-8zM8 345h8v15h-8zM16 345h8v15h-8zM24 360h8v15h-8zM24 375h8v15h-8zM56 375h8v15h-8zM64 390h8v15h-8zM72 390h8v15h-8zM56 405h8v15h-8zM64 405h8v15h-8zM24 420h8v15h-8zM64 420h8v15h-8zM72 420h8v15h-8zM80 420h8v15h-8zM48 435h8v15h-8zM56 435h8v15h-8zM64 435h8v15h-8zM72 435h8v15h-8zM80 435h8v15h-8z"/></g></mask><mask id="m1B" maskUnits="userSpaceOnUse" x="-30" y="-20" width="230" height="565"><g filter="url(#warp)"><path fill="#fff" d="M72 -10h8v25h-8zM56 15h8v15h-8zM40 30h8v15h-8zM56 30h8v15h-8zM88 30h8v15h-8zM40 45h8v15h-8zM48 45h8v15h-8zM80 45h8v15h-8zM88 45h8v15h-8zM40 60h8v15h-8zM48 60h8v15h-8zM96 60h8v15h-8zM40 75h8v15h-8zM56 75h8v15h-8zM72 75h8v15h-8zM80 75h8v15h-8zM88 75h8v15h-8zM96 75h8v15h-8zM104 75h8v15h-8zM80 90h8v15h-8zM96 90h8v15h-8zM112 90h8v15h-8zM40 105h8v15h-8zM72 105h8v15h-8zM56 120h8v15h-8zM80 120h8v15h-8zM96 120h8v15h-8zM48 135h8v15h-8zM56 135h8v15h-8zM88 135h8v15h-8zM96 135h8v15h-8zM56 150h8v15h-8zM56 165h8v15h-8zM48 180h8v15h-8zM56 180h8v15h-8zM88 180h8v15h-8zM112 180h8v15h-8zM56 240h8v15h-8zM72 240h8v15h-8zM80 240h8v15h-8zM104 240h8v15h-8zM72 255h8v15h-8zM88 255h8v15h-8zM104 255h8v15h-8zM8 270h8v15h-8zM48 270h8v15h-8zM56 270h8v15h-8zM64 270h8v15h-8zM72 270h8v15h-8zM112 270h8v15h-8zM120 270h8v15h-8zM40 285h8v15h-8zM48 285h8v15h-8zM56 285h8v15h-8zM112 285h8v15h-8zM40 300h8v15h-8zM104 300h8v15h-8zM112 300h8v15h-8zM24 315h8v15h-8zM56 315h8v15h-8zM112 315h8v15h-8zM120 315h8v15h-8zM24 330h8v15h-8zM24 345h8v15h-8zM112 360h8v15h-8zM72 375h8v15h-8zM120 375h8v15h-8zM56 390h8v15h-8zM120 390h8v15h-8zM136 390h8v15h-8zM72 405h8v15h-8zM80 405h8v15h-8zM88 405h8v15h-8zM112 405h8v15h-8zM128 405h8v15h-8zM152 405h38v15h-38zM88 420h8v15h-8zM96 420h8v15h-8zM120 420h8v15h-8zM128 420h8v15h-8zM96 435h8v15h-8zM120 435h8v15h-8zM136 435h8v15h-8zM80 450h8v15h-8zM96 450h8v15h-8zM112 450h8v15h-8zM128 450h8v15h-8zM136 450h8v15h-8zM72 465h8v15h-8zM80 465h8v15h-8zM96 465h8v15h-8zM112 465h8v15h-8zM128 465h8v15h-8zM24 480h8v15h-8zM64 480h8v15h-8zM72 480h8v15h-8zM88 480h8v15h-8zM120 480h8v15h-8zM56 495h8v15h-8zM64 495h8v15h-8zM72 495h8v15h-8zM88 495h8v15h-8zM96 495h8v15h-8zM120 495h8v15h-8zM144 495h8v15h-8zM152 495h38v15h-38zM128 510h8v30h-8zM136 510h8v30h-8zM144 510h8v30h-8zM152 510h38v30h-38z"/></g></mask><mask id="m1Q" maskUnits="userSpaceOnUse" x="-30" y="-20" width="230" height="565"><g filter="url(#warp)"><path fill="#fff" d="M112 -10h8v25h-8zM80 15h8v15h-8zM72 30h8v15h-8zM136 30h8v15h-8zM64 45h8v15h-8zM128 75h8v15h-8zM128 90h8v15h-8zM32 105h8v15h-8zM24 120h8v15h-8zM-20 135h28v15h-28zM-20 195h28v15h-28zM-20 240h28v15h-28zM8 240h8v15h-8zM-20 255h28v15h-28zM72 315h8v15h-8zM80 315h8v15h-8zM96 315h8v15h-8zM-20 345h28v15h-28zM-20 360h28v15h-28zM8 360h8v15h-8zM-20 375h28v15h-28zM-20 390h28v15h-28z"/></g></mask><mask id="m1N" maskUnits="userSpaceOnUse" x="-30" y="-20" width="230" height="565"><g filter="url(#warp)"><path fill="#fff" d="M-20 15h28v15h-28zM112 15h8v15h-8zM120 15h8v15h-8zM-20 30h28v15h-28zM112 30h8v15h-8zM-20 45h28v15h-28zM-20 60h28v15h-28zM144 60h8v15h-8zM152 60h38v15h-38zM-20 75h28v15h-28zM8 75h8v15h-8zM32 75h8v15h-8zM144 75h8v15h-8zM152 75h38v15h-38zM-20 90h28v15h-28zM-20 105h28v15h-28zM-20 120h28v15h-28zM152 120h38v15h-38zM112 135h8v15h-8zM144 135h8v15h-8zM152 135h38v15h-38zM32 150h8v15h-8zM40 150h8v15h-8zM32 165h8v15h-8zM40 165h8v15h-8zM32 180h8v15h-8zM32 195h8v15h-8zM88 195h8v15h-8zM96 195h8v15h-8zM104 195h8v15h-8zM112 195h8v15h-8zM120 195h8v15h-8zM128 195h8v15h-8zM136 195h8v15h-8zM144 195h8v15h-8zM152 195h38v15h-38zM8 210h8v15h-8zM16 210h8v15h-8zM24 210h8v15h-8zM32 210h8v15h-8zM40 210h8v15h-8zM48 210h8v15h-8zM64 210h8v15h-8zM72 210h8v15h-8zM80 210h8v15h-8zM88 210h8v15h-8zM96 210h8v15h-8zM104 210h8v15h-8zM112 210h8v15h-8zM120 210h8v15h-8zM128 210h8v15h-8zM136 210h8v15h-8zM144 210h8v15h-8zM152 210h38v15h-38zM8 225h8v15h-8zM16 225h8v15h-8zM24 225h8v15h-8zM32 225h8v15h-8zM40 225h8v15h-8zM48 225h8v15h-8zM56 225h8v15h-8zM64 225h8v15h-8zM72 225h8v15h-8zM80 225h8v15h-8zM88 225h8v15h-8zM96 225h8v15h-8zM104 225h8v15h-8zM112 225h8v15h-8zM120 225h8v15h-8zM128 225h8v15h-8zM136 225h8v15h-8zM24 240h8v15h-8zM32 240h8v15h-8zM120 240h8v15h-8zM128 240h8v15h-8zM136 240h8v15h-8zM24 255h8v15h-8zM120 255h8v15h-8zM128 255h8v15h-8zM16 270h8v15h-8zM24 270h8v15h-8zM144 270h8v15h-8zM152 270h38v15h-38zM16 285h8v15h-8zM24 285h8v15h-8zM144 285h8v15h-8zM152 285h38v15h-38zM24 300h8v15h-8zM136 300h8v15h-8zM32 315h8v15h-8zM32 330h8v15h-8zM56 330h8v15h-8zM112 330h8v15h-8zM120 330h8v15h-8zM32 345h8v15h-8zM40 345h8v15h-8zM56 345h8v15h-8zM152 345h38v15h-38zM32 360h8v15h-8zM40 360h8v15h-8zM144 360h8v15h-8zM152 360h38v15h-38zM32 375h8v15h-8zM40 375h8v15h-8zM144 375h8v15h-8zM32 390h8v15h-8zM40 390h8v15h-8zM152 390h38v15h-38zM32 405h8v15h-8zM40 405h8v15h-8zM-20 420h28v15h-28zM8 420h8v15h-8zM32 420h8v15h-8zM40 420h8v15h-8zM-20 435h28v15h-28zM8 435h8v15h-8zM40 435h8v15h-8zM-20 450h28v15h-28zM8 450h8v15h-8zM48 450h8v15h-8zM-20 465h28v15h-28zM8 465h8v15h-8zM32 465h8v15h-8zM48 465h8v15h-8zM-20 480h28v15h-28zM8 480h8v15h-8zM48 480h8v15h-8zM-20 495h28v15h-28zM8 495h8v15h-8zM24 495h8v15h-8zM-20 510h28v30h-28zM8 510h8v30h-8zM16 510h8v30h-8zM24 510h8v30h-8zM32 510h8v30h-8zM40 510h8v30h-8zM48 510h8v30h-8zM56 510h8v30h-8zM64 510h8v30h-8z"/></g></mask><mask id="m1P" maskUnits="userSpaceOnUse" x="-30" y="-20" width="230" height="565"><g filter="url(#warp)"><path fill="#fff" d="M32 15h8v15h-8zM32 30h8v15h-8zM32 90h8v15h-8zM32 120h8v15h-8zM24 135h8v15h-8zM8 150h8v15h-8zM24 150h8v15h-8zM8 165h8v15h-8zM16 165h8v15h-8zM8 180h8v15h-8zM16 180h8v15h-8zM24 180h8v15h-8zM8 195h8v15h-8zM16 195h8v15h-8zM24 195h8v15h-8zM40 255h8v15h-8zM48 390h8v15h-8z"/></g></mask><mask id="m1E" maskUnits="userSpaceOnUse" x="-30" y="-20" width="230" height="565"><g filter="url(#warp)"><path fill="#fff" d="M128 15h8v15h-8zM120 30h8v15h-8zM144 120h8v15h-8zM120 135h8v15h-8zM128 135h8v15h-8zM136 135h8v15h-8zM112 150h8v15h-8zM120 150h8v15h-8zM152 150h38v15h-38zM144 225h8v15h-8zM152 225h38v15h-38zM144 240h8v15h-8zM152 240h38v15h-38zM136 255h8v15h-8zM136 285h8v15h-8zM128 300h8v15h-8zM144 300h8v15h-8zM152 300h38v15h-38zM144 315h8v15h-8zM40 330h8v15h-8zM48 345h8v15h-8zM48 360h8v15h-8zM48 375h8v15h-8zM24 465h8v15h-8zM56 465h8v15h-8z"/></g></mask><mask id="m1H" maskUnits="userSpaceOnUse" x="-30" y="-20" width="230" height="565"><g filter="url(#warp)"><path fill="#fff" d="M136 15h8v15h-8zM128 120h8v15h-8zM64 150h8v15h-8zM72 150h8v15h-8zM104 150h8v15h-8zM64 165h8v15h-8zM72 165h8v15h-8zM80 165h8v15h-8zM88 165h8v15h-8zM104 165h8v15h-8zM72 180h8v15h-8zM80 180h8v15h-8zM128 270h8v15h-8zM48 300h8v15h-8zM120 300h8v15h-8zM48 330h8v15h-8zM72 360h8v15h-8zM64 375h8v15h-8zM16 420h8v15h-8zM24 450h8v15h-8zM32 450h8v15h-8zM72 450h8v15h-8zM64 465h8v15h-8z"/></g></mask><mask id="m1D" maskUnits="userSpaceOnUse" x="-30" y="-20" width="230" height="565"><g filter="url(#warp)"><path fill="#fff" d="M104 30h8v15h-8zM112 45h8v15h-8zM112 120h8v15h-8zM32 135h8v15h-8zM40 135h8v15h-8zM104 135h8v15h-8zM48 150h8v15h-8zM24 165h8v15h-8zM48 165h8v15h-8zM40 180h8v15h-8zM40 195h8v15h-8zM48 195h8v15h-8zM56 195h8v15h-8zM64 195h8v15h-8zM72 195h8v15h-8zM80 195h8v15h-8zM56 210h8v15h-8zM16 240h8v15h-8zM40 240h8v15h-8zM48 240h8v15h-8zM112 240h8v15h-8zM16 255h8v15h-8zM32 255h8v15h-8zM112 255h8v15h-8zM32 270h8v15h-8zM40 270h8v15h-8zM-20 285h28v15h-28zM8 285h8v15h-8zM32 285h8v15h-8zM32 300h8v15h-8zM40 315h8v15h-8zM64 330h8v15h-8zM128 330h8v15h-8zM112 345h8v15h-8zM56 360h8v15h-8zM120 360h8v15h-8zM136 375h8v15h-8zM152 375h38v15h-38zM144 390h8v15h-8zM48 405h8v15h-8zM48 420h8v15h-8zM56 420h8v15h-8zM56 450h8v15h-8zM32 495h8v15h-8zM40 495h8v15h-8zM48 495h8v15h-8zM72 510h8v30h-8zM80 510h8v30h-8zM88 510h8v30h-8zM96 510h8v30h-8zM104 510h8v30h-8zM112 510h8v30h-8zM120 510h8v30h-8z"/></g></mask><mask id="m1Y" maskUnits="userSpaceOnUse" x="-30" y="-20" width="230" height="565"><g filter="url(#warp)"><path fill="#fff" d="M128 30h8v15h-8zM120 45h8v15h-8zM64 60h8v15h-8zM128 60h8v15h-8zM144 105h8v15h-8zM152 105h38v15h-38zM136 120h8v15h-8zM-20 150h28v15h-28zM128 150h8v15h-8zM144 150h8v15h-8zM120 165h8v15h-8zM128 165h8v15h-8zM136 165h8v15h-8zM120 180h8v15h-8zM136 180h8v15h-8zM72 300h8v15h-8zM152 330h38v15h-38zM64 345h8v15h-8zM64 450h8v15h-8z"/></g></mask><mask id="m1M" maskUnits="userSpaceOnUse" x="-30" y="-20" width="230" height="565"><g filter="url(#warp)"><path fill="#fff" d="M32 45h8v15h-8zM96 45h8v15h-8zM32 60h8v15h-8zM56 60h8v15h-8zM72 60h8v15h-8zM88 60h8v15h-8zM104 60h8v15h-8zM112 60h8v15h-8zM136 75h8v15h-8zM80 105h8v15h-8zM88 105h8v15h-8zM64 120h8v15h-8zM64 135h8v15h-8zM72 135h8v15h-8zM80 135h8v15h-8zM-20 165h28v15h-28zM-20 180h28v15h-28zM-20 225h28v15h-28zM80 270h8v15h-8zM88 270h8v15h-8zM104 270h8v15h-8zM64 285h8v15h-8zM72 285h8v15h-8zM104 285h8v15h-8zM64 300h8v15h-8zM96 300h8v15h-8zM64 315h8v15h-8zM104 315h8v15h-8zM72 330h8v15h-8zM80 330h8v15h-8zM88 330h8v15h-8zM104 330h8v15h-8zM136 330h8v15h-8zM144 330h8v15h-8zM72 345h8v15h-8zM80 345h8v15h-8zM104 345h8v15h-8zM120 345h8v15h-8zM144 345h8v15h-8zM80 360h8v15h-8zM88 360h8v15h-8zM104 360h8v15h-8zM128 360h8v15h-8zM136 360h8v15h-8zM80 375h8v15h-8zM88 375h8v15h-8zM112 375h8v15h-8zM128 375h8v15h-8zM80 390h8v15h-8zM88 390h8v15h-8zM112 390h8v15h-8zM128 390h8v15h-8zM-20 405h28v15h-28zM96 405h8v15h-8zM104 405h8v15h-8zM120 405h8v15h-8zM136 405h8v15h-8zM144 405h8v15h-8zM104 420h8v15h-8zM112 420h8v15h-8zM136 420h8v15h-8zM152 420h38v15h-38zM88 435h8v15h-8zM104 435h8v15h-8zM112 435h8v15h-8zM128 435h8v15h-8zM88 450h8v15h-8zM104 450h8v15h-8zM120 450h8v15h-8zM144 450h8v15h-8zM16 465h8v15h-8zM40 465h8v15h-8zM88 465h8v15h-8zM104 465h8v15h-8zM120 465h8v15h-8zM136 465h8v15h-8zM144 465h8v15h-8zM16 480h8v15h-8zM32 480h8v15h-8zM40 480h8v15h-8zM56 480h8v15h-8zM80 480h8v15h-8zM96 480h8v15h-8zM104 480h8v15h-8zM112 480h8v15h-8zM128 480h8v15h-8zM144 480h8v15h-8zM152 480h38v15h-38zM16 495h8v15h-8zM80 495h8v15h-8zM104 495h8v15h-8zM112 495h8v15h-8zM128 495h8v15h-8zM136 495h8v15h-8z"/></g></mask><mask id="m1R" maskUnits="userSpaceOnUse" x="-30" y="-20" width="230" height="565"><g filter="url(#warp)"><path fill="#fff" d="M128 45h8v15h-8zM136 90h8v15h-8z"/></g></mask><mask id="m1O" maskUnits="userSpaceOnUse" x="-30" y="-20" width="230" height="565"><g filter="url(#warp)"><path fill="#fff" d="M144 90h8v15h-8zM96 270h8v15h-8zM80 285h8v15h-8zM88 285h8v15h-8zM96 285h8v15h-8zM80 300h8v15h-8zM88 300h8v15h-8zM96 330h8v15h-8zM88 345h8v15h-8zM96 345h8v15h-8zM128 345h8v15h-8zM136 345h8v15h-8zM96 360h8v15h-8zM96 375h8v15h-8zM104 375h8v15h-8zM96 390h8v15h-8zM104 390h8v15h-8zM144 420h8v15h-8zM144 435h8v15h-8zM152 435h38v15h-38zM152 450h38v15h-38zM152 465h38v15h-38zM136 480h8v15h-8z"/></g></mask><mask id="m1G" maskUnits="userSpaceOnUse" x="-30" y="-20" width="230" height="565"><g filter="url(#warp)"><path fill="#fff" d="M152 90h38v15h-38zM136 150h8v15h-8zM144 165h8v15h-8zM152 165h38v15h-38zM128 180h8v15h-8zM144 180h8v15h-8zM152 180h38v15h-38zM144 255h8v15h-8zM152 255h38v15h-38zM136 270h8v15h-8zM128 285h8v15h-8zM152 315h38v15h-38zM64 360h8v15h-8zM40 450h8v15h-8z"/></g></mask></defs>
<g filter="url(#soft)"><g clip-path="url(#cp1)"><g transform="matrix(1,0,0.343,1,346.7,0)">
<g filter="url(#warp)"><path fill="#1c6cb4" d="M-20 -10h28v25h-28zM8 45h8v15h-8zM136 45h8v15h-8zM8 60h8v15h-8zM136 60h8v15h-8zM8 90h8v15h-8zM-20 210h28v15h-28zM24 390h8v15h-8zM8 405h8v15h-8zM24 405h8v15h-8zM32 435h8v15h-8z"/><path fill="#2acadf" d="M8 -10h8v25h-8zM16 -10h8v25h-8zM24 -10h8v25h-8zM56 -10h8v25h-8zM88 -10h8v25h-8zM128 -10h8v25h-8zM136 -10h8v25h-8zM144 -10h8v25h-8zM152 -10h38v25h-38zM8 15h8v15h-8zM16 15h8v15h-8zM24 15h8v15h-8zM96 15h8v15h-8zM8 30h8v15h-8zM16 30h8v15h-8zM24 30h8v15h-8zM16 45h8v15h-8zM24 45h8v15h-8zM16 60h8v15h-8zM24 60h8v15h-8zM16 75h8v15h-8zM24 75h8v15h-8zM120 75h8v15h-8zM16 90h8v15h-8zM24 90h8v15h-8zM56 90h8v15h-8zM8 105h8v15h-8zM16 105h8v15h-8zM24 105h8v15h-8zM56 105h8v15h-8zM8 120h8v15h-8zM16 120h8v15h-8zM8 135h8v15h-8zM-20 300h28v15h-28zM8 300h8v15h-8zM16 360h8v15h-8zM8 375h8v15h-8zM16 375h8v15h-8zM8 390h8v15h-8zM16 390h8v15h-8zM16 405h8v15h-8zM16 435h8v15h-8zM24 435h8v15h-8zM16 450h8v15h-8z"/><path fill="#2692e5" d="M32 -10h8v25h-8zM40 -10h8v25h-8zM48 -10h8v25h-8zM64 -10h8v25h-8zM80 -10h8v25h-8zM96 -10h8v25h-8zM104 -10h8v25h-8zM120 -10h8v25h-8zM40 15h8v15h-8zM48 15h8v15h-8zM64 15h8v15h-8zM72 15h8v15h-8zM88 15h8v15h-8zM104 15h8v15h-8zM144 15h8v15h-8zM152 15h38v15h-38zM48 30h8v15h-8zM64 30h8v15h-8zM80 30h8v15h-8zM96 30h8v15h-8zM144 30h8v15h-8zM152 30h38v15h-38zM56 45h8v15h-8zM72 45h8v15h-8zM104 45h8v15h-8zM144 45h8v15h-8zM152 45h38v15h-38zM80 60h8v15h-8zM120 60h8v15h-8zM48 75h8v15h-8zM64 75h8v15h-8zM112 75h8v15h-8zM40 90h8v15h-8zM48 90h8v15h-8zM64 90h8v15h-8zM72 90h8v15h-8zM88 90h8v15h-8zM104 90h8v15h-8zM120 90h8v15h-8zM48 105h8v15h-8zM64 105h8v15h-8zM96 105h8v15h-8zM104 105h8v15h-8zM112 105h8v15h-8zM120 105h8v15h-8zM128 105h8v15h-8zM136 105h8v15h-8zM40 120h8v15h-8zM48 120h8v15h-8zM72 120h8v15h-8zM88 120h8v15h-8zM104 120h8v15h-8zM120 120h8v15h-8zM16 135h8v15h-8zM16 150h8v15h-8zM80 150h8v15h-8zM88 150h8v15h-8zM96 150h8v15h-8zM96 165h8v15h-8zM112 165h8v15h-8zM64 180h8v15h-8zM96 180h8v15h-8zM104 180h8v15h-8zM64 240h8v15h-8zM88 240h8v15h-8zM96 240h8v15h-8zM8 255h8v15h-8zM48 255h8v15h-8zM56 255h8v15h-8zM64 255h8v15h-8zM80 255h8v15h-8zM96 255h8v15h-8zM-20 270h28v15h-28zM120 285h8v15h-8zM16 300h8v15h-8zM56 300h8v15h-8zM-20 315h28v15h-28zM8 315h8v15h-8zM16 315h8v15h-8zM48 315h8v15h-8zM88 315h8v15h-8zM128 315h8v15h-8zM136 315h8v15h-8zM-20 330h28v15h-28zM8 330h8v15h-8zM16 330h8v15h-8zM8 345h8v15h-8zM16 345h8v15h-8zM24 360h8v15h-8zM24 375h8v15h-8zM56 375h8v15h-8zM64 390h8v15h-8zM72 390h8v15h-8zM56 405h8v15h-8zM64 405h8v15h-8zM24 420h8v15h-8zM64 420h8v15h-8zM72 420h8v15h-8zM80 420h8v15h-8zM48 435h8v15h-8zM56 435h8v15h-8zM64 435h8v15h-8zM72 435h8v15h-8zM80 435h8v15h-8z"/><path fill="#1e52d5" d="M72 -10h8v25h-8zM56 15h8v15h-8zM40 30h8v15h-8zM56 30h8v15h-8zM88 30h8v15h-8zM40 45h8v15h-8zM48 45h8v15h-8zM80 45h8v15h-8zM88 45h8v15h-8zM40 60h8v15h-8zM48 60h8v15h-8zM96 60h8v15h-8zM40 75h8v15h-8zM56 75h8v15h-8zM72 75h8v15h-8zM80 75h8v15h-8zM88 75h8v15h-8zM96 75h8v15h-8zM104 75h8v15h-8zM80 90h8v15h-8zM96 90h8v15h-8zM112 90h8v15h-8zM40 105h8v15h-8zM72 105h8v15h-8zM56 120h8v15h-8zM80 120h8v15h-8zM96 120h8v15h-8zM48 135h8v15h-8zM56 135h8v15h-8zM88 135h8v15h-8zM96 135h8v15h-8zM56 150h8v15h-8zM56 165h8v15h-8zM48 180h8v15h-8zM56 180h8v15h-8zM88 180h8v15h-8zM112 180h8v15h-8zM56 240h8v15h-8zM72 240h8v15h-8zM80 240h8v15h-8zM104 240h8v15h-8zM72 255h8v15h-8zM88 255h8v15h-8zM104 255h8v15h-8zM8 270h8v15h-8zM48 270h8v15h-8zM56 270h8v15h-8zM64 270h8v15h-8zM72 270h8v15h-8zM112 270h8v15h-8zM120 270h8v15h-8zM40 285h8v15h-8zM48 285h8v15h-8zM56 285h8v15h-8zM112 285h8v15h-8zM40 300h8v15h-8zM104 300h8v15h-8zM112 300h8v15h-8zM24 315h8v15h-8zM56 315h8v15h-8zM112 315h8v15h-8zM120 315h8v15h-8zM24 330h8v15h-8zM24 345h8v15h-8zM112 360h8v15h-8zM72 375h8v15h-8zM120 375h8v15h-8zM56 390h8v15h-8zM120 390h8v15h-8zM136 390h8v15h-8zM72 405h8v15h-8zM80 405h8v15h-8zM88 405h8v15h-8zM112 405h8v15h-8zM128 405h8v15h-8zM152 405h38v15h-38zM88 420h8v15h-8zM96 420h8v15h-8zM120 420h8v15h-8zM128 420h8v15h-8zM96 435h8v15h-8zM120 435h8v15h-8zM136 435h8v15h-8zM80 450h8v15h-8zM96 450h8v15h-8zM112 450h8v15h-8zM128 450h8v15h-8zM136 450h8v15h-8zM72 465h8v15h-8zM80 465h8v15h-8zM96 465h8v15h-8zM112 465h8v15h-8zM128 465h8v15h-8zM24 480h8v15h-8zM64 480h8v15h-8zM72 480h8v15h-8zM88 480h8v15h-8zM120 480h8v15h-8zM56 495h8v15h-8zM64 495h8v15h-8zM72 495h8v15h-8zM88 495h8v15h-8zM96 495h8v15h-8zM120 495h8v15h-8zM144 495h8v15h-8zM152 495h38v15h-38zM128 510h8v30h-8zM136 510h8v30h-8zM144 510h8v30h-8zM152 510h38v30h-38z"/><path fill="#6fa49c" d="M112 -10h8v25h-8zM80 15h8v15h-8zM72 30h8v15h-8zM136 30h8v15h-8zM64 45h8v15h-8zM128 75h8v15h-8zM128 90h8v15h-8zM32 105h8v15h-8zM24 120h8v15h-8zM-20 135h28v15h-28zM-20 195h28v15h-28zM-20 240h28v15h-28zM8 240h8v15h-8zM-20 255h28v15h-28zM72 315h8v15h-8zM80 315h8v15h-8zM96 315h8v15h-8zM-20 345h28v15h-28zM-20 360h28v15h-28zM8 360h8v15h-8zM-20 375h28v15h-28zM-20 390h28v15h-28z"/><path fill="#0e1489" d="M-20 15h28v15h-28zM112 15h8v15h-8zM120 15h8v15h-8zM-20 30h28v15h-28zM112 30h8v15h-8zM-20 45h28v15h-28zM-20 60h28v15h-28zM144 60h8v15h-8zM152 60h38v15h-38zM-20 75h28v15h-28zM8 75h8v15h-8zM32 75h8v15h-8zM144 75h8v15h-8zM152 75h38v15h-38zM-20 90h28v15h-28zM-20 105h28v15h-28zM-20 120h28v15h-28zM152 120h38v15h-38zM112 135h8v15h-8zM144 135h8v15h-8zM152 135h38v15h-38zM32 150h8v15h-8zM40 150h8v15h-8zM32 165h8v15h-8zM40 165h8v15h-8zM32 180h8v15h-8zM32 195h8v15h-8zM88 195h8v15h-8zM96 195h8v15h-8zM104 195h8v15h-8zM112 195h8v15h-8zM120 195h8v15h-8zM128 195h8v15h-8zM136 195h8v15h-8zM144 195h8v15h-8zM152 195h38v15h-38zM8 210h8v15h-8zM16 210h8v15h-8zM24 210h8v15h-8zM32 210h8v15h-8zM40 210h8v15h-8zM48 210h8v15h-8zM64 210h8v15h-8zM72 210h8v15h-8zM80 210h8v15h-8zM88 210h8v15h-8zM96 210h8v15h-8zM104 210h8v15h-8zM112 210h8v15h-8zM120 210h8v15h-8zM128 210h8v15h-8zM136 210h8v15h-8zM144 210h8v15h-8zM152 210h38v15h-38zM8 225h8v15h-8zM16 225h8v15h-8zM24 225h8v15h-8zM32 225h8v15h-8zM40 225h8v15h-8zM48 225h8v15h-8zM56 225h8v15h-8zM64 225h8v15h-8zM72 225h8v15h-8zM80 225h8v15h-8zM88 225h8v15h-8zM96 225h8v15h-8zM104 225h8v15h-8zM112 225h8v15h-8zM120 225h8v15h-8zM128 225h8v15h-8zM136 225h8v15h-8zM24 240h8v15h-8zM32 240h8v15h-8zM120 240h8v15h-8zM128 240h8v15h-8zM136 240h8v15h-8zM24 255h8v15h-8zM120 255h8v15h-8zM128 255h8v15h-8zM16 270h8v15h-8zM24 270h8v15h-8zM144 270h8v15h-8zM152 270h38v15h-38zM16 285h8v15h-8zM24 285h8v15h-8zM144 285h8v15h-8zM152 285h38v15h-38zM24 300h8v15h-8zM136 300h8v15h-8zM32 315h8v15h-8zM32 330h8v15h-8zM56 330h8v15h-8zM112 330h8v15h-8zM120 330h8v15h-8zM32 345h8v15h-8zM40 345h8v15h-8zM56 345h8v15h-8zM152 345h38v15h-38zM32 360h8v15h-8zM40 360h8v15h-8zM144 360h8v15h-8zM152 360h38v15h-38zM32 375h8v15h-8zM40 375h8v15h-8zM144 375h8v15h-8zM32 390h8v15h-8zM40 390h8v15h-8zM152 390h38v15h-38zM32 405h8v15h-8zM40 405h8v15h-8zM-20 420h28v15h-28zM8 420h8v15h-8zM32 420h8v15h-8zM40 420h8v15h-8zM-20 435h28v15h-28zM8 435h8v15h-8zM40 435h8v15h-8zM-20 450h28v15h-28zM8 450h8v15h-8zM48 450h8v15h-8zM-20 465h28v15h-28zM8 465h8v15h-8zM32 465h8v15h-8zM48 465h8v15h-8zM-20 480h28v15h-28zM8 480h8v15h-8zM48 480h8v15h-8zM-20 495h28v15h-28zM8 495h8v15h-8zM24 495h8v15h-8zM-20 510h28v30h-28zM8 510h8v30h-8zM16 510h8v30h-8zM24 510h8v30h-8zM32 510h8v30h-8zM40 510h8v30h-8zM48 510h8v30h-8zM56 510h8v30h-8zM64 510h8v30h-8z"/><path fill="#602a74" d="M32 15h8v15h-8zM32 30h8v15h-8zM32 90h8v15h-8zM32 120h8v15h-8zM24 135h8v15h-8zM8 150h8v15h-8zM24 150h8v15h-8zM8 165h8v15h-8zM16 165h8v15h-8zM8 180h8v15h-8zM16 180h8v15h-8zM24 180h8v15h-8zM8 195h8v15h-8zM16 195h8v15h-8zM24 195h8v15h-8zM40 255h8v15h-8zM48 390h8v15h-8z"/><path fill="#42627f" d="M128 15h8v15h-8zM120 30h8v15h-8zM144 120h8v15h-8zM120 135h8v15h-8zM128 135h8v15h-8zM136 135h8v15h-8zM112 150h8v15h-8zM120 150h8v15h-8zM152 150h38v15h-38zM144 225h8v15h-8zM152 225h38v15h-38zM144 240h8v15h-8zM152 240h38v15h-38zM136 255h8v15h-8zM136 285h8v15h-8zM128 300h8v15h-8zM144 300h8v15h-8zM152 300h38v15h-38zM144 315h8v15h-8zM40 330h8v15h-8zM48 345h8v15h-8zM48 360h8v15h-8zM48 375h8v15h-8zM24 465h8v15h-8zM56 465h8v15h-8z"/><path fill="#5fd0a7" d="M136 15h8v15h-8zM128 120h8v15h-8zM64 150h8v15h-8zM72 150h8v15h-8zM104 150h8v15h-8zM64 165h8v15h-8zM72 165h8v15h-8zM80 165h8v15h-8zM88 165h8v15h-8zM104 165h8v15h-8zM72 180h8v15h-8zM80 180h8v15h-8zM128 270h8v15h-8zM48 300h8v15h-8zM120 300h8v15h-8zM48 330h8v15h-8zM72 360h8v15h-8zM64 375h8v15h-8zM16 420h8v15h-8zM24 450h8v15h-8zM32 450h8v15h-8zM72 450h8v15h-8zM64 465h8v15h-8z"/><path fill="#1633b2" d="M104 30h8v15h-8zM112 45h8v15h-8zM112 120h8v15h-8zM32 135h8v15h-8zM40 135h8v15h-8zM104 135h8v15h-8zM48 150h8v15h-8zM24 165h8v15h-8zM48 165h8v15h-8zM40 180h8v15h-8zM40 195h8v15h-8zM48 195h8v15h-8zM56 195h8v15h-8zM64 195h8v15h-8zM72 195h8v15h-8zM80 195h8v15h-8zM56 210h8v15h-8zM16 240h8v15h-8zM40 240h8v15h-8zM48 240h8v15h-8zM112 240h8v15h-8zM16 255h8v15h-8zM32 255h8v15h-8zM112 255h8v15h-8zM32 270h8v15h-8zM40 270h8v15h-8zM-20 285h28v15h-28zM8 285h8v15h-8zM32 285h8v15h-8zM32 300h8v15h-8zM40 315h8v15h-8zM64 330h8v15h-8zM128 330h8v15h-8zM112 345h8v15h-8zM56 360h8v15h-8zM120 360h8v15h-8zM136 375h8v15h-8zM152 375h38v15h-38zM144 390h8v15h-8zM48 405h8v15h-8zM48 420h8v15h-8zM56 420h8v15h-8zM56 450h8v15h-8zM32 495h8v15h-8zM40 495h8v15h-8zM48 495h8v15h-8zM72 510h8v30h-8zM80 510h8v30h-8zM88 510h8v30h-8zM96 510h8v30h-8zM104 510h8v30h-8zM112 510h8v30h-8zM120 510h8v30h-8z"/><path fill="#d1cd3f" d="M128 30h8v15h-8zM120 45h8v15h-8zM64 60h8v15h-8zM128 60h8v15h-8zM144 105h8v15h-8zM152 105h38v15h-38zM136 120h8v15h-8zM-20 150h28v15h-28zM128 150h8v15h-8zM144 150h8v15h-8zM120 165h8v15h-8zM128 165h8v15h-8zM136 165h8v15h-8zM120 180h8v15h-8zM136 180h8v15h-8zM72 300h8v15h-8zM152 330h38v15h-38zM64 345h8v15h-8zM64 450h8v15h-8z"/><path fill="#7d6d8e" d="M32 45h8v15h-8zM96 45h8v15h-8zM32 60h8v15h-8zM56 60h8v15h-8zM72 60h8v15h-8zM88 60h8v15h-8zM104 60h8v15h-8zM112 60h8v15h-8zM136 75h8v15h-8zM80 105h8v15h-8zM88 105h8v15h-8zM64 120h8v15h-8zM64 135h8v15h-8zM72 135h8v15h-8zM80 135h8v15h-8zM-20 165h28v15h-28zM-20 180h28v15h-28zM-20 225h28v15h-28zM80 270h8v15h-8zM88 270h8v15h-8zM104 270h8v15h-8zM64 285h8v15h-8zM72 285h8v15h-8zM104 285h8v15h-8zM64 300h8v15h-8zM96 300h8v15h-8zM64 315h8v15h-8zM104 315h8v15h-8zM72 330h8v15h-8zM80 330h8v15h-8zM88 330h8v15h-8zM104 330h8v15h-8zM136 330h8v15h-8zM144 330h8v15h-8zM72 345h8v15h-8zM80 345h8v15h-8zM104 345h8v15h-8zM120 345h8v15h-8zM144 345h8v15h-8zM80 360h8v15h-8zM88 360h8v15h-8zM104 360h8v15h-8zM128 360h8v15h-8zM136 360h8v15h-8zM80 375h8v15h-8zM88 375h8v15h-8zM112 375h8v15h-8zM128 375h8v15h-8zM80 390h8v15h-8zM88 390h8v15h-8zM112 390h8v15h-8zM128 390h8v15h-8zM-20 405h28v15h-28zM96 405h8v15h-8zM104 405h8v15h-8zM120 405h8v15h-8zM136 405h8v15h-8zM144 405h8v15h-8zM104 420h8v15h-8zM112 420h8v15h-8zM136 420h8v15h-8zM152 420h38v15h-38zM88 435h8v15h-8zM104 435h8v15h-8zM112 435h8v15h-8zM128 435h8v15h-8zM88 450h8v15h-8zM104 450h8v15h-8zM120 450h8v15h-8zM144 450h8v15h-8zM16 465h8v15h-8zM40 465h8v15h-8zM88 465h8v15h-8zM104 465h8v15h-8zM120 465h8v15h-8zM136 465h8v15h-8zM144 465h8v15h-8zM16 480h8v15h-8zM32 480h8v15h-8zM40 480h8v15h-8zM56 480h8v15h-8zM80 480h8v15h-8zM96 480h8v15h-8zM104 480h8v15h-8zM112 480h8v15h-8zM128 480h8v15h-8zM144 480h8v15h-8zM152 480h38v15h-38zM16 495h8v15h-8zM80 495h8v15h-8zM104 495h8v15h-8zM112 495h8v15h-8zM128 495h8v15h-8zM136 495h8v15h-8z"/><path fill="#ae3d2f" d="M128 45h8v15h-8zM136 90h8v15h-8z"/><path fill="#d4973f" d="M144 90h8v15h-8zM96 270h8v15h-8zM80 285h8v15h-8zM88 285h8v15h-8zM96 285h8v15h-8zM80 300h8v15h-8zM88 300h8v15h-8zM96 330h8v15h-8zM88 345h8v15h-8zM96 345h8v15h-8zM128 345h8v15h-8zM136 345h8v15h-8zM96 360h8v15h-8zM96 375h8v15h-8zM104 375h8v15h-8zM96 390h8v15h-8zM104 390h8v15h-8zM144 420h8v15h-8zM144 435h8v15h-8zM152 435h38v15h-38zM152 450h38v15h-38zM152 465h38v15h-38zM136 480h8v15h-8z"/><path fill="#97e770" d="M152 90h38v15h-38zM136 150h8v15h-8zM144 165h8v15h-8zM152 165h38v15h-38zM128 180h8v15h-8zM144 180h8v15h-8zM152 180h38v15h-38zM144 255h8v15h-8zM152 255h38v15h-38zM136 270h8v15h-8zM128 285h8v15h-8zM152 315h38v15h-38zM64 360h8v15h-8zM40 450h8v15h-8z"/></g>
<rect x="-30" y="-20" width="230" height="565" fill="url(#ptT)" mask="url(#m1T)"/>
<rect x="-30" y="-20" width="230" height="565" fill="url(#ptC)" mask="url(#m1C)"/>
<rect x="-30" y="-20" width="230" height="565" fill="url(#ptA)" mask="url(#m1A)"/>
<rect x="-30" y="-20" width="230" height="565" fill="url(#ptB)" mask="url(#m1B)"/>
<rect x="-30" y="-20" width="230" height="565" fill="url(#ptQ)" mask="url(#m1Q)"/>
<rect x="-30" y="-20" width="230" height="565" fill="url(#ptN)" mask="url(#m1N)"/>
<rect x="-30" y="-20" width="230" height="565" fill="url(#ptP)" mask="url(#m1P)"/>
<rect x="-30" y="-20" width="230" height="565" fill="url(#ptE)" mask="url(#m1E)"/>
<rect x="-30" y="-20" width="230" height="565" fill="url(#ptH)" mask="url(#m1H)"/>
<rect x="-30" y="-20" width="230" height="565" fill="url(#ptD)" mask="url(#m1D)"/>
<rect x="-30" y="-20" width="230" height="565" fill="url(#ptY)" mask="url(#m1Y)"/>
<rect x="-30" y="-20" width="230" height="565" fill="url(#ptM)" mask="url(#m1M)"/>
<rect x="-30" y="-20" width="230" height="565" fill="url(#ptR)" mask="url(#m1R)"/>
<rect x="-30" y="-20" width="230" height="565" fill="url(#ptO)" mask="url(#m1O)"/>
<rect x="-30" y="-20" width="230" height="565" fill="url(#ptG)" mask="url(#m1G)"/>
</g></g></g>
<clipPath id="cp2"><polygon points="699.6,2.0 833.6,1.5 840.6,3.0 845.6,6.5 849.1,12.0 852.6,23.0 858.6,43.0 862.1,53.5 867.6,56.0 876.6,58.3 880.6,63.5 1034.6,505.0 1034.1,509.5 1017.6,512.5 959.6,516.5 899.6,517.0 893.6,516.8 886.2,512.8 878.2,505.5 873.1,498.3 865.8,483.7 860.7,469.0 855.6,454.6 850.5,440.0 844.6,430.0 699.6,8.5"/></clipPath>
<defs><mask id="m2T" maskUnits="userSpaceOnUse" x="-30" y="-20" width="230" height="565"><g filter="url(#warp)"><path fill="#fff" d="M-20 -10h28v25h-28zM8 15h8v15h-8zM144 15h8v15h-8zM144 30h8v15h-8zM144 45h8v15h-8zM136 60h8v15h-8zM-20 120h28v15h-28zM-20 210h28v15h-28zM-20 225h28v15h-28zM-20 240h28v15h-28zM104 315h8v15h-8zM24 390h8v15h-8zM-20 405h28v15h-28zM32 435h8v15h-8zM40 435h8v15h-8zM24 465h8v15h-8z"/></g></mask><mask id="m2C" maskUnits="userSpaceOnUse" x="-30" y="-20" width="230" height="565"><g filter="url(#warp)"><path fill="#fff" d="M8 -10h8v25h-8zM16 -10h8v25h-8zM24 -10h8v25h-8zM56 -10h8v25h-8zM88 -10h8v25h-8zM96 -10h8v25h-8zM104 -10h8v25h-8zM112 -10h8v25h-8zM120 -10h8v25h-8zM128 -10h8v25h-8zM136 -10h8v25h-8zM144 -10h8v25h-8zM152 -10h38v25h-38zM16 15h8v15h-8zM24 15h8v15h-8zM88 15h8v15h-8zM96 15h8v15h-8zM104 15h8v15h-8zM152 15h38v15h-38zM8 30h8v15h-8zM16 30h8v15h-8zM64 30h8v15h-8zM80 30h8v15h-8zM88 30h8v15h-8zM152 30h38v15h-38zM16 45h8v15h-8zM88 45h8v15h-8zM152 45h38v15h-38zM8 60h8v15h-8zM16 60h8v15h-8zM88 60h8v15h-8zM8 75h8v15h-8zM16 75h8v15h-8zM80 75h8v15h-8zM88 75h8v15h-8zM8 90h8v15h-8zM16 90h8v15h-8zM56 90h8v15h-8zM80 90h8v15h-8zM8 105h8v15h-8zM16 105h8v15h-8zM24 105h8v15h-8zM48 105h8v15h-8zM8 120h8v15h-8zM16 120h8v15h-8zM8 135h8v15h-8zM-20 300h28v15h-28zM8 300h8v15h-8zM-20 315h28v15h-28zM-20 375h28v15h-28zM-20 390h28v15h-28zM8 390h8v15h-8zM72 390h8v15h-8zM8 405h8v15h-8zM16 405h8v15h-8zM24 435h8v15h-8zM16 450h8v15h-8z"/></g></mask><mask id="m2K" maskUnits="userSpaceOnUse" x="-30" y="-20" width="230" height="565"><g filter="url(#warp)"><path fill="#fff" d="M32 -10h8v25h-8zM40 -10h8v25h-8zM48 -10h8v25h-8zM64 -10h8v25h-8zM80 -10h8v25h-8zM48 15h8v15h-8zM56 15h8v15h-8zM40 30h8v15h-8zM56 30h8v15h-8zM96 30h8v15h-8zM48 45h8v15h-8zM80 45h8v15h-8zM96 45h8v15h-8zM40 60h8v15h-8zM80 60h8v15h-8zM40 75h8v15h-8zM56 75h8v15h-8zM96 75h8v15h-8zM40 90h8v15h-8zM48 90h8v15h-8zM64 90h8v15h-8zM88 90h8v15h-8zM104 90h8v15h-8zM40 105h8v15h-8zM56 105h8v15h-8zM64 105h8v15h-8zM72 105h8v15h-8zM40 120h8v15h-8zM48 120h8v15h-8zM64 120h8v15h-8z"/></g></mask><mask id="m2B" maskUnits="userSpaceOnUse" x="-30" y="-20" width="230" height="565"><g filter="url(#warp)"><path fill="#fff" d="M72 -10h8v25h-8zM48 30h8v15h-8zM40 45h8v15h-8zM56 45h8v15h-8zM104 45h8v15h-8zM48 60h8v15h-8zM56 60h8v15h-8zM48 75h8v15h-8zM104 75h8v15h-8zM96 90h8v15h-8zM104 105h8v15h-8zM56 120h8v15h-8zM88 120h8v15h-8zM104 120h8v15h-8zM56 135h8v15h-8zM88 135h8v15h-8zM96 135h8v15h-8zM56 150h8v15h-8zM80 150h8v15h-8zM56 165h8v15h-8zM48 180h8v15h-8zM80 180h8v15h-8zM56 240h8v15h-8zM64 240h8v15h-8zM72 240h8v15h-8zM96 240h8v15h-8zM104 240h8v15h-8zM112 240h8v15h-8zM64 255h8v15h-8zM72 255h8v15h-8zM80 255h8v15h-8zM96 255h8v15h-8zM8 270h8v15h-8zM48 270h8v15h-8zM56 270h8v15h-8zM64 270h8v15h-8zM120 270h8v15h-8zM40 285h8v15h-8zM56 285h8v15h-8zM112 285h8v15h-8zM40 300h8v15h-8zM104 300h8v15h-8zM112 300h8v15h-8zM24 315h8v15h-8zM64 315h8v15h-8zM24 330h8v15h-8zM128 390h8v15h-8zM80 405h8v15h-8zM96 405h8v15h-8zM88 420h8v15h-8zM120 420h8v15h-8zM120 435h8v15h-8zM136 435h8v15h-8zM128 450h8v15h-8zM80 465h8v15h-8zM120 465h8v15h-8zM64 480h8v15h-8zM80 480h8v15h-8zM120 480h8v15h-8zM72 495h8v15h-8zM88 495h8v15h-8zM120 495h8v15h-8zM144 495h8v15h-8zM152 495h38v15h-38zM128 510h8v30h-8zM136 510h8v30h-8zM144 510h8v30h-8zM152 510h38v30h-38z"/></g></mask><mask id="m2N" maskUnits="userSpaceOnUse" x="-30" y="-20" width="230" height="565"><g filter="url(#warp)"><path fill="#fff" d="M-20 15h28v15h-28zM112 15h8v15h-8zM120 15h8v15h-8zM128 15h8v15h-8zM136 15h8v15h-8zM-20 30h28v15h-28zM112 30h8v15h-8zM120 30h8v15h-8zM-20 45h28v15h-28zM8 45h8v15h-8zM-20 60h28v15h-28zM144 60h8v15h-8zM152 60h38v15h-38zM-20 75h28v15h-28zM24 75h8v15h-8zM136 75h8v15h-8zM144 75h8v15h-8zM152 75h38v15h-38zM-20 90h28v15h-28zM-20 105h28v15h-28zM152 120h38v15h-38zM112 135h8v15h-8zM136 135h8v15h-8zM144 135h8v15h-8zM152 135h38v15h-38zM40 150h8v15h-8zM152 150h38v15h-38zM32 165h8v15h-8zM40 165h8v15h-8zM88 195h8v15h-8zM96 195h8v15h-8zM104 195h8v15h-8zM112 195h8v15h-8zM120 195h8v15h-8zM128 195h8v15h-8zM136 195h8v15h-8zM144 195h8v15h-8zM152 195h38v15h-38zM8 210h8v15h-8zM16 210h8v15h-8zM24 210h8v15h-8zM32 210h8v15h-8zM40 210h8v15h-8zM48 210h8v15h-8zM64 210h8v15h-8zM72 210h8v15h-8zM80 210h8v15h-8zM88 210h8v15h-8zM96 210h8v15h-8zM104 210h8v15h-8zM112 210h8v15h-8zM120 210h8v15h-8zM128 210h8v15h-8zM136 210h8v15h-8zM144 210h8v15h-8zM152 210h38v15h-38zM8 225h8v15h-8zM16 225h8v15h-8zM24 225h8v15h-8zM32 225h8v15h-8zM40 225h8v15h-8zM48 225h8v15h-8zM56 225h8v15h-8zM64 225h8v15h-8zM72 225h8v15h-8zM80 225h8v15h-8zM88 225h8v15h-8zM96 225h8v15h-8zM104 225h8v15h-8zM112 225h8v15h-8zM120 225h8v15h-8zM128 225h8v15h-8zM136 225h8v15h-8zM8 240h8v15h-8zM16 240h8v15h-8zM24 240h8v15h-8zM32 240h8v15h-8zM120 240h8v15h-8zM128 240h8v15h-8zM136 240h8v15h-8zM24 255h8v15h-8zM120 255h8v15h-8zM128 255h8v15h-8zM16 270h8v15h-8zM24 270h8v15h-8zM32 270h8v15h-8zM144 270h8v15h-8zM152 270h38v15h-38zM-20 285h28v15h-28zM8 285h8v15h-8zM16 285h8v15h-8zM24 285h8v15h-8zM144 285h8v15h-8zM152 285h38v15h-38zM24 300h8v15h-8zM136 300h8v15h-8zM32 315h8v15h-8zM40 315h8v15h-8zM32 330h8v15h-8zM56 330h8v15h-8zM64 330h8v15h-8zM104 330h8v15h-8zM112 330h8v15h-8zM120 330h8v15h-8zM128 330h8v15h-8zM32 345h8v15h-8zM40 345h8v15h-8zM56 345h8v15h-8zM152 345h38v15h-38zM32 360h8v15h-8zM40 360h8v15h-8zM144 360h8v15h-8zM152 360h38v15h-38zM32 375h8v15h-8zM40 375h8v15h-8zM144 375h8v15h-8zM32 390h8v15h-8zM40 390h8v15h-8zM144 390h8v15h-8zM152 390h38v15h-38zM24 405h8v15h-8zM32 405h8v15h-8zM40 405h8v15h-8zM-20 420h28v15h-28zM8 420h8v15h-8zM32 420h8v15h-8zM40 420h8v15h-8zM48 420h8v15h-8zM-20 435h28v15h-28zM8 435h8v15h-8zM-20 450h28v15h-28zM8 450h8v15h-8zM48 450h8v15h-8zM56 450h8v15h-8zM-20 465h28v15h-28zM8 465h8v15h-8zM32 465h8v15h-8zM48 465h8v15h-8zM-20 480h28v15h-28zM8 480h8v15h-8zM48 480h8v15h-8zM-20 495h28v15h-28zM8 495h8v15h-8zM24 495h8v15h-8zM-20 510h28v30h-28zM8 510h8v30h-8zM16 510h8v30h-8zM24 510h8v30h-8zM32 510h8v30h-8zM40 510h8v30h-8zM48 510h8v30h-8zM56 510h8v30h-8zM64 510h8v30h-8z"/></g></mask><mask id="m2P" maskUnits="userSpaceOnUse" x="-30" y="-20" width="230" height="565"><g filter="url(#warp)"><path fill="#fff" d="M32 15h8v15h-8zM40 15h8v15h-8zM32 75h8v15h-8zM24 90h8v15h-8zM32 90h8v15h-8zM32 105h8v15h-8zM32 120h8v15h-8zM32 135h8v15h-8zM32 150h8v15h-8zM96 150h8v15h-8zM104 150h8v15h-8zM24 165h8v15h-8zM88 165h8v15h-8zM96 165h8v15h-8zM104 165h8v15h-8zM8 180h8v15h-8zM32 180h8v15h-8zM40 180h8v15h-8zM88 180h8v15h-8zM96 180h8v15h-8zM120 180h8v15h-8zM8 195h8v15h-8zM16 195h8v15h-8zM24 195h8v15h-8zM32 195h8v15h-8zM40 195h8v15h-8zM48 195h8v15h-8zM56 195h8v15h-8zM64 195h8v15h-8zM80 195h8v15h-8zM40 240h8v15h-8zM48 240h8v15h-8zM88 240h8v15h-8zM40 255h8v15h-8zM56 390h8v15h-8z"/></g></mask><mask id="m2Q" maskUnits="userSpaceOnUse" x="-30" y="-20" width="230" height="565"><g filter="url(#warp)"><path fill="#fff" d="M64 15h8v15h-8zM72 15h8v15h-8zM80 15h8v15h-8zM24 30h8v15h-8zM72 30h8v15h-8zM96 60h8v15h-8zM64 75h8v15h-8zM72 75h8v15h-8zM72 90h8v15h-8zM24 120h8v15h-8zM-20 195h28v15h-28zM16 300h8v15h-8zM80 315h8v15h-8zM88 315h8v15h-8zM96 315h8v15h-8zM8 330h8v15h-8zM80 390h8v15h-8z"/></g></mask><mask id="m2R" maskUnits="userSpaceOnUse" x="-30" y="-20" width="230" height="565"><g filter="url(#warp)"><path fill="#fff" d="M32 30h8v15h-8zM32 45h8v15h-8zM136 90h8v15h-8zM8 150h8v15h-8zM24 150h8v15h-8zM128 150h8v15h-8zM8 165h8v15h-8zM16 165h8v15h-8zM112 165h8v15h-8zM120 165h8v15h-8zM16 180h8v15h-8zM24 180h8v15h-8zM104 180h8v15h-8zM112 180h8v15h-8zM128 180h8v15h-8z"/></g></mask><mask id="m2D" maskUnits="userSpaceOnUse" x="-30" y="-20" width="230" height="565"><g filter="url(#warp)"><path fill="#fff" d="M104 30h8v15h-8zM104 135h8v15h-8zM48 150h8v15h-8zM88 150h8v15h-8zM48 165h8v15h-8zM72 195h8v15h-8zM56 210h8v15h-8zM16 255h8v15h-8zM32 255h8v15h-8zM112 255h8v15h-8zM40 270h8v15h-8zM32 285h8v15h-8zM32 300h8v15h-8zM56 315h8v15h-8zM112 315h8v15h-8zM120 315h8v15h-8zM72 330h8v15h-8zM112 345h8v15h-8zM120 345h8v15h-8zM112 360h8v15h-8zM120 360h8v15h-8zM120 375h8v15h-8zM136 375h8v15h-8zM152 375h38v15h-38zM136 390h8v15h-8zM48 405h8v15h-8zM128 405h8v15h-8zM80 450h8v15h-8zM56 465h8v15h-8zM72 465h8v15h-8zM32 495h8v15h-8zM40 495h8v15h-8zM48 495h8v15h-8zM72 510h8v30h-8zM80 510h8v30h-8zM88 510h8v30h-8zM96 510h8v30h-8zM104 510h8v30h-8zM112 510h8v30h-8zM120 510h8v30h-8z"/></g></mask><mask id="m2G" maskUnits="userSpaceOnUse" x="-30" y="-20" width="230" height="565"><g filter="url(#warp)"><path fill="#fff" d="M128 30h8v15h-8zM136 30h8v15h-8zM120 45h8v15h-8zM128 45h8v15h-8zM136 45h8v15h-8zM64 60h8v15h-8zM120 60h8v15h-8zM152 90h38v15h-38zM144 105h8v15h-8zM152 105h38v15h-38zM128 120h8v15h-8zM136 120h8v15h-8zM144 120h8v15h-8zM136 150h8v15h-8zM144 150h8v15h-8zM136 165h8v15h-8zM144 165h8v15h-8zM152 165h38v15h-38zM144 180h8v15h-8zM152 180h38v15h-38zM144 255h8v15h-8zM152 255h38v15h-38zM136 270h8v15h-8zM128 285h8v15h-8zM72 345h8v15h-8zM64 360h8v15h-8z"/></g></mask><mask id="m2H" maskUnits="userSpaceOnUse" x="-30" y="-20" width="230" height="565"><g filter="url(#warp)"><path fill="#fff" d="M24 45h8v15h-8zM72 45h8v15h-8zM112 45h8v15h-8zM128 60h8v15h-8zM120 75h8v15h-8zM120 90h8v15h-8zM128 90h8v15h-8zM128 105h8v15h-8zM136 105h8v15h-8zM120 120h8v15h-8zM-20 135h28v15h-28zM16 135h8v15h-8zM40 135h8v15h-8zM-20 150h28v15h-28zM64 150h8v15h-8zM72 150h8v15h-8zM-20 165h28v15h-28zM64 165h8v15h-8zM72 180h8v15h-8zM128 270h8v15h-8zM48 285h8v15h-8zM64 285h8v15h-8zM48 300h8v15h-8zM64 300h8v15h-8zM120 300h8v15h-8zM128 315h8v15h-8zM152 315h38v15h-38zM16 330h8v15h-8zM64 345h8v15h-8zM24 375h8v15h-8zM56 405h8v15h-8zM64 405h8v15h-8zM72 405h8v15h-8zM16 420h8v15h-8zM24 420h8v15h-8zM72 420h8v15h-8zM80 420h8v15h-8zM16 435h8v15h-8zM56 435h8v15h-8zM72 435h8v15h-8zM24 450h8v15h-8zM72 450h8v15h-8z"/></g></mask><mask id="m2Y" maskUnits="userSpaceOnUse" x="-30" y="-20" width="230" height="565"><g filter="url(#warp)"><path fill="#fff" d="M64 45h8v15h-8zM72 60h8v15h-8zM104 60h8v15h-8zM112 60h8v15h-8zM120 150h8v15h-8zM128 165h8v15h-8zM136 180h8v15h-8zM72 285h8v15h-8zM72 300h8v15h-8zM48 315h8v15h-8zM72 315h8v15h-8zM48 330h8v15h-8zM144 330h8v15h-8zM80 345h8v15h-8zM136 345h8v15h-8zM80 360h8v15h-8zM80 375h8v15h-8zM88 375h8v15h-8zM80 435h8v15h-8zM32 450h8v15h-8zM40 450h8v15h-8zM64 450h8v15h-8z"/></g></mask><mask id="m2O" maskUnits="userSpaceOnUse" x="-30" y="-20" width="230" height="565"><g filter="url(#warp)"><path fill="#fff" d="M24 60h8v15h-8zM88 105h8v15h-8zM64 135h8v15h-8zM72 135h8v15h-8zM80 135h8v15h-8zM88 270h8v15h-8zM96 270h8v15h-8zM104 270h8v15h-8zM80 285h8v15h-8zM88 285h8v15h-8zM96 285h8v15h-8zM80 300h8v15h-8zM88 300h8v15h-8zM88 345h8v15h-8zM96 345h8v15h-8zM128 345h8v15h-8zM88 360h8v15h-8zM96 360h8v15h-8zM96 375h8v15h-8zM104 375h8v15h-8zM88 390h8v15h-8zM96 390h8v15h-8zM104 390h8v15h-8zM112 405h8v15h-8zM144 405h8v15h-8zM152 405h38v15h-38zM104 420h8v15h-8zM112 420h8v15h-8zM144 420h8v15h-8zM104 435h8v15h-8zM112 435h8v15h-8zM144 435h8v15h-8zM152 435h38v15h-38zM96 450h8v15h-8zM104 450h8v15h-8zM112 450h8v15h-8zM144 450h8v15h-8zM152 450h38v15h-38zM104 465h8v15h-8zM144 465h8v15h-8zM152 465h38v15h-38zM144 480h8v15h-8z"/></g></mask><mask id="m2M" maskUnits="userSpaceOnUse" x="-30" y="-20" width="230" height="565"><g filter="url(#warp)"><path fill="#fff" d="M32 60h8v15h-8zM80 105h8v15h-8zM96 105h8v15h-8zM72 120h8v15h-8zM80 120h8v15h-8zM96 120h8v15h-8zM72 270h8v15h-8zM80 270h8v15h-8zM112 270h8v15h-8zM104 285h8v15h-8zM96 300h8v15h-8zM80 330h8v15h-8zM88 330h8v15h-8zM96 330h8v15h-8zM104 345h8v15h-8zM144 345h8v15h-8zM104 360h8v15h-8zM128 360h8v15h-8zM136 360h8v15h-8zM112 375h8v15h-8zM128 375h8v15h-8zM112 390h8v15h-8zM120 390h8v15h-8zM88 405h8v15h-8zM104 405h8v15h-8zM120 405h8v15h-8zM136 405h8v15h-8zM96 420h8v15h-8zM128 420h8v15h-8zM136 420h8v15h-8zM152 420h38v15h-38zM88 435h8v15h-8zM96 435h8v15h-8zM128 435h8v15h-8zM88 450h8v15h-8zM120 450h8v15h-8zM136 450h8v15h-8zM16 465h8v15h-8zM40 465h8v15h-8zM64 465h8v15h-8zM88 465h8v15h-8zM96 465h8v15h-8zM112 465h8v15h-8zM128 465h8v15h-8zM136 465h8v15h-8zM16 480h8v15h-8zM24 480h8v15h-8zM32 480h8v15h-8zM40 480h8v15h-8zM56 480h8v15h-8zM72 480h8v15h-8zM88 480h8v15h-8zM96 480h8v15h-8zM104 480h8v15h-8zM112 480h8v15h-8zM128 480h8v15h-8zM136 480h8v15h-8zM152 480h38v15h-38zM16 495h8v15h-8zM56 495h8v15h-8zM64 495h8v15h-8zM80 495h8v15h-8zM96 495h8v15h-8zM104 495h8v15h-8zM112 495h8v15h-8zM128 495h8v15h-8zM136 495h8v15h-8z"/></g></mask><mask id="m2A" maskUnits="userSpaceOnUse" x="-30" y="-20" width="230" height="565"><g filter="url(#warp)"><path fill="#fff" d="M112 75h8v15h-8zM112 90h8v15h-8zM112 105h8v15h-8zM120 105h8v15h-8zM112 120h8v15h-8zM48 135h8v15h-8zM16 150h8v15h-8zM112 150h8v15h-8zM72 165h8v15h-8zM80 165h8v15h-8zM-20 180h28v15h-28zM56 180h8v15h-8zM64 180h8v15h-8zM80 240h8v15h-8zM-20 255h28v15h-28zM8 255h8v15h-8zM48 255h8v15h-8zM56 255h8v15h-8zM88 255h8v15h-8zM104 255h8v15h-8zM-20 270h28v15h-28zM120 285h8v15h-8zM56 300h8v15h-8zM8 315h8v15h-8zM16 315h8v15h-8zM-20 330h28v15h-28zM24 345h8v15h-8zM64 390h8v15h-8zM64 435h8v15h-8z"/></g></mask><mask id="m2E" maskUnits="userSpaceOnUse" x="-30" y="-20" width="230" height="565"><g filter="url(#warp)"><path fill="#fff" d="M128 75h8v15h-8zM144 90h8v15h-8zM24 135h8v15h-8zM120 135h8v15h-8zM128 135h8v15h-8zM144 225h8v15h-8zM152 225h38v15h-38zM144 240h8v15h-8zM152 240h38v15h-38zM136 255h8v15h-8zM136 285h8v15h-8zM128 300h8v15h-8zM144 300h8v15h-8zM152 300h38v15h-38zM136 315h8v15h-8zM144 315h8v15h-8zM40 330h8v15h-8zM136 330h8v15h-8zM152 330h38v15h-38zM48 345h8v15h-8zM24 360h8v15h-8zM48 360h8v15h-8zM56 360h8v15h-8zM72 360h8v15h-8zM48 375h8v15h-8zM56 375h8v15h-8zM64 375h8v15h-8zM72 375h8v15h-8zM48 390h8v15h-8zM56 420h8v15h-8zM64 420h8v15h-8zM48 435h8v15h-8z"/></g></mask><mask id="m2J" maskUnits="userSpaceOnUse" x="-30" y="-20" width="230" height="565"><g filter="url(#warp)"><path fill="#fff" d="M-20 345h28v15h-28zM8 345h8v15h-8zM16 345h8v15h-8zM-20 360h28v15h-28zM8 360h8v15h-8zM16 360h8v15h-8zM8 375h8v15h-8zM16 375h8v15h-8zM16 390h8v15h-8z"/></g></mask></defs>
<g filter="url(#soft)"><g clip-path="url(#cp2)"><g transform="matrix(1,0,0.343,1,696.7,0)">
<g filter="url(#warp)"><path fill="#1c6cb4" d="M-20 -10h28v25h-28zM8 15h8v15h-8zM144 15h8v15h-8zM144 30h8v15h-8zM144 45h8v15h-8zM136 60h8v15h-8zM-20 120h28v15h-28zM-20 210h28v15h-28zM-20 225h28v15h-28zM-20 240h28v15h-28zM104 315h8v15h-8zM24 390h8v15h-8zM-20 405h28v15h-28zM32 435h8v15h-8zM40 435h8v15h-8zM24 465h8v15h-8z"/><path fill="#2acadf" d="M8 -10h8v25h-8zM16 -10h8v25h-8zM24 -10h8v25h-8zM56 -10h8v25h-8zM88 -10h8v25h-8zM96 -10h8v25h-8zM104 -10h8v25h-8zM112 -10h8v25h-8zM120 -10h8v25h-8zM128 -10h8v25h-8zM136 -10h8v25h-8zM144 -10h8v25h-8zM152 -10h38v25h-38zM16 15h8v15h-8zM24 15h8v15h-8zM88 15h8v15h-8zM96 15h8v15h-8zM104 15h8v15h-8zM152 15h38v15h-38zM8 30h8v15h-8zM16 30h8v15h-8zM64 30h8v15h-8zM80 30h8v15h-8zM88 30h8v15h-8zM152 30h38v15h-38zM16 45h8v15h-8zM88 45h8v15h-8zM152 45h38v15h-38zM8 60h8v15h-8zM16 60h8v15h-8zM88 60h8v15h-8zM8 75h8v15h-8zM16 75h8v15h-8zM80 75h8v15h-8zM88 75h8v15h-8zM8 90h8v15h-8zM16 90h8v15h-8zM56 90h8v15h-8zM80 90h8v15h-8zM8 105h8v15h-8zM16 105h8v15h-8zM24 105h8v15h-8zM48 105h8v15h-8zM8 120h8v15h-8zM16 120h8v15h-8zM8 135h8v15h-8zM-20 300h28v15h-28zM8 300h8v15h-8zM-20 315h28v15h-28zM-20 375h28v15h-28zM-20 390h28v15h-28zM8 390h8v15h-8zM72 390h8v15h-8zM8 405h8v15h-8zM16 405h8v15h-8zM24 435h8v15h-8zM16 450h8v15h-8z"/><path fill="#28b2e2" d="M32 -10h8v25h-8zM40 -10h8v25h-8zM48 -10h8v25h-8zM64 -10h8v25h-8zM80 -10h8v25h-8zM48 15h8v15h-8zM56 15h8v15h-8zM40 30h8v15h-8zM56 30h8v15h-8zM96 30h8v15h-8zM48 45h8v15h-8zM80 45h8v15h-8zM96 45h8v15h-8zM40 60h8v15h-8zM80 60h8v15h-8zM40 75h8v15h-8zM56 75h8v15h-8zM96 75h8v15h-8zM40 90h8v15h-8zM48 90h8v15h-8zM64 90h8v15h-8zM88 90h8v15h-8zM104 90h8v15h-8zM40 105h8v15h-8zM56 105h8v15h-8zM64 105h8v15h-8zM72 105h8v15h-8zM40 120h8v15h-8zM48 120h8v15h-8zM64 120h8v15h-8z"/><path fill="#1e52d5" d="M72 -10h8v25h-8zM48 30h8v15h-8zM40 45h8v15h-8zM56 45h8v15h-8zM104 45h8v15h-8zM48 60h8v15h-8zM56 60h8v15h-8zM48 75h8v15h-8zM104 75h8v15h-8zM96 90h8v15h-8zM104 105h8v15h-8zM56 120h8v15h-8zM88 120h8v15h-8zM104 120h8v15h-8zM56 135h8v15h-8zM88 135h8v15h-8zM96 135h8v15h-8zM56 150h8v15h-8zM80 150h8v15h-8zM56 165h8v15h-8zM48 180h8v15h-8zM80 180h8v15h-8zM56 240h8v15h-8zM64 240h8v15h-8zM72 240h8v15h-8zM96 240h8v15h-8zM104 240h8v15h-8zM112 240h8v15h-8zM64 255h8v15h-8zM72 255h8v15h-8zM80 255h8v15h-8zM96 255h8v15h-8zM8 270h8v15h-8zM48 270h8v15h-8zM56 270h8v15h-8zM64 270h8v15h-8zM120 270h8v15h-8zM40 285h8v15h-8zM56 285h8v15h-8zM112 285h8v15h-8zM40 300h8v15h-8zM104 300h8v15h-8zM112 300h8v15h-8zM24 315h8v15h-8zM64 315h8v15h-8zM24 330h8v15h-8zM128 390h8v15h-8zM80 405h8v15h-8zM96 405h8v15h-8zM88 420h8v15h-8zM120 420h8v15h-8zM120 435h8v15h-8zM136 435h8v15h-8zM128 450h8v15h-8zM80 465h8v15h-8zM120 465h8v15h-8zM64 480h8v15h-8zM80 480h8v15h-8zM120 480h8v15h-8zM72 495h8v15h-8zM88 495h8v15h-8zM120 495h8v15h-8zM144 495h8v15h-8zM152 495h38v15h-38zM128 510h8v30h-8zM136 510h8v30h-8zM144 510h8v30h-8zM152 510h38v30h-38z"/><path fill="#0e1489" d="M-20 15h28v15h-28zM112 15h8v15h-8zM120 15h8v15h-8zM128 15h8v15h-8zM136 15h8v15h-8zM-20 30h28v15h-28zM112 30h8v15h-8zM120 30h8v15h-8zM-20 45h28v15h-28zM8 45h8v15h-8zM-20 60h28v15h-28zM144 60h8v15h-8zM152 60h38v15h-38zM-20 75h28v15h-28zM24 75h8v15h-8zM136 75h8v15h-8zM144 75h8v15h-8zM152 75h38v15h-38zM-20 90h28v15h-28zM-20 105h28v15h-28zM152 120h38v15h-38zM112 135h8v15h-8zM136 135h8v15h-8zM144 135h8v15h-8zM152 135h38v15h-38zM40 150h8v15h-8zM152 150h38v15h-38zM32 165h8v15h-8zM40 165h8v15h-8zM88 195h8v15h-8zM96 195h8v15h-8zM104 195h8v15h-8zM112 195h8v15h-8zM120 195h8v15h-8zM128 195h8v15h-8zM136 195h8v15h-8zM144 195h8v15h-8zM152 195h38v15h-38zM8 210h8v15h-8zM16 210h8v15h-8zM24 210h8v15h-8zM32 210h8v15h-8zM40 210h8v15h-8zM48 210h8v15h-8zM64 210h8v15h-8zM72 210h8v15h-8zM80 210h8v15h-8zM88 210h8v15h-8zM96 210h8v15h-8zM104 210h8v15h-8zM112 210h8v15h-8zM120 210h8v15h-8zM128 210h8v15h-8zM136 210h8v15h-8zM144 210h8v15h-8zM152 210h38v15h-38zM8 225h8v15h-8zM16 225h8v15h-8zM24 225h8v15h-8zM32 225h8v15h-8zM40 225h8v15h-8zM48 225h8v15h-8zM56 225h8v15h-8zM64 225h8v15h-8zM72 225h8v15h-8zM80 225h8v15h-8zM88 225h8v15h-8zM96 225h8v15h-8zM104 225h8v15h-8zM112 225h8v15h-8zM120 225h8v15h-8zM128 225h8v15h-8zM136 225h8v15h-8zM8 240h8v15h-8zM16 240h8v15h-8zM24 240h8v15h-8zM32 240h8v15h-8zM120 240h8v15h-8zM128 240h8v15h-8zM136 240h8v15h-8zM24 255h8v15h-8zM120 255h8v15h-8zM128 255h8v15h-8zM16 270h8v15h-8zM24 270h8v15h-8zM32 270h8v15h-8zM144 270h8v15h-8zM152 270h38v15h-38zM-20 285h28v15h-28zM8 285h8v15h-8zM16 285h8v15h-8zM24 285h8v15h-8zM144 285h8v15h-8zM152 285h38v15h-38zM24 300h8v15h-8zM136 300h8v15h-8zM32 315h8v15h-8zM40 315h8v15h-8zM32 330h8v15h-8zM56 330h8v15h-8zM64 330h8v15h-8zM104 330h8v15h-8zM112 330h8v15h-8zM120 330h8v15h-8zM128 330h8v15h-8zM32 345h8v15h-8zM40 345h8v15h-8zM56 345h8v15h-8zM152 345h38v15h-38zM32 360h8v15h-8zM40 360h8v15h-8zM144 360h8v15h-8zM152 360h38v15h-38zM32 375h8v15h-8zM40 375h8v15h-8zM144 375h8v15h-8zM32 390h8v15h-8zM40 390h8v15h-8zM144 390h8v15h-8zM152 390h38v15h-38zM24 405h8v15h-8zM32 405h8v15h-8zM40 405h8v15h-8zM-20 420h28v15h-28zM8 420h8v15h-8zM32 420h8v15h-8zM40 420h8v15h-8zM48 420h8v15h-8zM-20 435h28v15h-28zM8 435h8v15h-8zM-20 450h28v15h-28zM8 450h8v15h-8zM48 450h8v15h-8zM56 450h8v15h-8zM-20 465h28v15h-28zM8 465h8v15h-8zM32 465h8v15h-8zM48 465h8v15h-8zM-20 480h28v15h-28zM8 480h8v15h-8zM48 480h8v15h-8zM-20 495h28v15h-28zM8 495h8v15h-8zM24 495h8v15h-8zM-20 510h28v30h-28zM8 510h8v30h-8zM16 510h8v30h-8zM24 510h8v30h-8zM32 510h8v30h-8zM40 510h8v30h-8zM48 510h8v30h-8zM56 510h8v30h-8zM64 510h8v30h-8z"/><path fill="#602a74" d="M32 15h8v15h-8zM40 15h8v15h-8zM32 75h8v15h-8zM24 90h8v15h-8zM32 90h8v15h-8zM32 105h8v15h-8zM32 120h8v15h-8zM32 135h8v15h-8zM32 150h8v15h-8zM96 150h8v15h-8zM104 150h8v15h-8zM24 165h8v15h-8zM88 165h8v15h-8zM96 165h8v15h-8zM104 165h8v15h-8zM8 180h8v15h-8zM32 180h8v15h-8zM40 180h8v15h-8zM88 180h8v15h-8zM96 180h8v15h-8zM120 180h8v15h-8zM8 195h8v15h-8zM16 195h8v15h-8zM24 195h8v15h-8zM32 195h8v15h-8zM40 195h8v15h-8zM48 195h8v15h-8zM56 195h8v15h-8zM64 195h8v15h-8zM80 195h8v15h-8zM40 240h8v15h-8zM48 240h8v15h-8zM88 240h8v15h-8zM40 255h8v15h-8zM56 390h8v15h-8z"/><path fill="#6fa49c" d="M64 15h8v15h-8zM72 15h8v15h-8zM80 15h8v15h-8zM24 30h8v15h-8zM72 30h8v15h-8zM96 60h8v15h-8zM64 75h8v15h-8zM72 75h8v15h-8zM72 90h8v15h-8zM24 120h8v15h-8zM-20 195h28v15h-28zM16 300h8v15h-8zM80 315h8v15h-8zM88 315h8v15h-8zM96 315h8v15h-8zM8 330h8v15h-8zM80 390h8v15h-8z"/><path fill="#ae3d2f" d="M32 30h8v15h-8zM32 45h8v15h-8zM136 90h8v15h-8zM8 150h8v15h-8zM24 150h8v15h-8zM128 150h8v15h-8zM8 165h8v15h-8zM16 165h8v15h-8zM112 165h8v15h-8zM120 165h8v15h-8zM16 180h8v15h-8zM24 180h8v15h-8zM104 180h8v15h-8zM112 180h8v15h-8zM128 180h8v15h-8z"/><path fill="#1633b2" d="M104 30h8v15h-8zM104 135h8v15h-8zM48 150h8v15h-8zM88 150h8v15h-8zM48 165h8v15h-8zM72 195h8v15h-8zM56 210h8v15h-8zM16 255h8v15h-8zM32 255h8v15h-8zM112 255h8v15h-8zM40 270h8v15h-8zM32 285h8v15h-8zM32 300h8v15h-8zM56 315h8v15h-8zM112 315h8v15h-8zM120 315h8v15h-8zM72 330h8v15h-8zM112 345h8v15h-8zM120 345h8v15h-8zM112 360h8v15h-8zM120 360h8v15h-8zM120 375h8v15h-8zM136 375h8v15h-8zM152 375h38v15h-38zM136 390h8v15h-8zM48 405h8v15h-8zM128 405h8v15h-8zM80 450h8v15h-8zM56 465h8v15h-8zM72 465h8v15h-8zM32 495h8v15h-8zM40 495h8v15h-8zM48 495h8v15h-8zM72 510h8v30h-8zM80 510h8v30h-8zM88 510h8v30h-8zM96 510h8v30h-8zM104 510h8v30h-8zM112 510h8v30h-8zM120 510h8v30h-8z"/><path fill="#97e770" d="M128 30h8v15h-8zM136 30h8v15h-8zM120 45h8v15h-8zM128 45h8v15h-8zM136 45h8v15h-8zM64 60h8v15h-8zM120 60h8v15h-8zM152 90h38v15h-38zM144 105h8v15h-8zM152 105h38v15h-38zM128 120h8v15h-8zM136 120h8v15h-8zM144 120h8v15h-8zM136 150h8v15h-8zM144 150h8v15h-8zM136 165h8v15h-8zM144 165h8v15h-8zM152 165h38v15h-38zM144 180h8v15h-8zM152 180h38v15h-38zM144 255h8v15h-8zM152 255h38v15h-38zM136 270h8v15h-8zM128 285h8v15h-8zM72 345h8v15h-8zM64 360h8v15h-8z"/><path fill="#5fd0a7" d="M24 45h8v15h-8zM72 45h8v15h-8zM112 45h8v15h-8zM128 60h8v15h-8zM120 75h8v15h-8zM120 90h8v15h-8zM128 90h8v15h-8zM128 105h8v15h-8zM136 105h8v15h-8zM120 120h8v15h-8zM-20 135h28v15h-28zM16 135h8v15h-8zM40 135h8v15h-8zM-20 150h28v15h-28zM64 150h8v15h-8zM72 150h8v15h-8zM-20 165h28v15h-28zM64 165h8v15h-8zM72 180h8v15h-8zM128 270h8v15h-8zM48 285h8v15h-8zM64 285h8v15h-8zM48 300h8v15h-8zM64 300h8v15h-8zM120 300h8v15h-8zM128 315h8v15h-8zM152 315h38v15h-38zM16 330h8v15h-8zM64 345h8v15h-8zM24 375h8v15h-8zM56 405h8v15h-8zM64 405h8v15h-8zM72 405h8v15h-8zM16 420h8v15h-8zM24 420h8v15h-8zM72 420h8v15h-8zM80 420h8v15h-8zM16 435h8v15h-8zM56 435h8v15h-8zM72 435h8v15h-8zM24 450h8v15h-8zM72 450h8v15h-8z"/><path fill="#d1cd3f" d="M64 45h8v15h-8zM72 60h8v15h-8zM104 60h8v15h-8zM112 60h8v15h-8zM120 150h8v15h-8zM128 165h8v15h-8zM136 180h8v15h-8zM72 285h8v15h-8zM72 300h8v15h-8zM48 315h8v15h-8zM72 315h8v15h-8zM48 330h8v15h-8zM144 330h8v15h-8zM80 345h8v15h-8zM136 345h8v15h-8zM80 360h8v15h-8zM80 375h8v15h-8zM88 375h8v15h-8zM80 435h8v15h-8zM32 450h8v15h-8zM40 450h8v15h-8zM64 450h8v15h-8z"/><path fill="#d4973f" d="M24 60h8v15h-8zM88 105h8v15h-8zM64 135h8v15h-8zM72 135h8v15h-8zM80 135h8v15h-8zM88 270h8v15h-8zM96 270h8v15h-8zM104 270h8v15h-8zM80 285h8v15h-8zM88 285h8v15h-8zM96 285h8v15h-8zM80 300h8v15h-8zM88 300h8v15h-8zM88 345h8v15h-8zM96 345h8v15h-8zM128 345h8v15h-8zM88 360h8v15h-8zM96 360h8v15h-8zM96 375h8v15h-8zM104 375h8v15h-8zM88 390h8v15h-8zM96 390h8v15h-8zM104 390h8v15h-8zM112 405h8v15h-8zM144 405h8v15h-8zM152 405h38v15h-38zM104 420h8v15h-8zM112 420h8v15h-8zM144 420h8v15h-8zM104 435h8v15h-8zM112 435h8v15h-8zM144 435h8v15h-8zM152 435h38v15h-38zM96 450h8v15h-8zM104 450h8v15h-8zM112 450h8v15h-8zM144 450h8v15h-8zM152 450h38v15h-38zM104 465h8v15h-8zM144 465h8v15h-8zM152 465h38v15h-38zM144 480h8v15h-8z"/><path fill="#7d6d8e" d="M32 60h8v15h-8zM80 105h8v15h-8zM96 105h8v15h-8zM72 120h8v15h-8zM80 120h8v15h-8zM96 120h8v15h-8zM72 270h8v15h-8zM80 270h8v15h-8zM112 270h8v15h-8zM104 285h8v15h-8zM96 300h8v15h-8zM80 330h8v15h-8zM88 330h8v15h-8zM96 330h8v15h-8zM104 345h8v15h-8zM144 345h8v15h-8zM104 360h8v15h-8zM128 360h8v15h-8zM136 360h8v15h-8zM112 375h8v15h-8zM128 375h8v15h-8zM112 390h8v15h-8zM120 390h8v15h-8zM88 405h8v15h-8zM104 405h8v15h-8zM120 405h8v15h-8zM136 405h8v15h-8zM96 420h8v15h-8zM128 420h8v15h-8zM136 420h8v15h-8zM152 420h38v15h-38zM88 435h8v15h-8zM96 435h8v15h-8zM128 435h8v15h-8zM88 450h8v15h-8zM120 450h8v15h-8zM136 450h8v15h-8zM16 465h8v15h-8zM40 465h8v15h-8zM64 465h8v15h-8zM88 465h8v15h-8zM96 465h8v15h-8zM112 465h8v15h-8zM128 465h8v15h-8zM136 465h8v15h-8zM16 480h8v15h-8zM24 480h8v15h-8zM32 480h8v15h-8zM40 480h8v15h-8zM56 480h8v15h-8zM72 480h8v15h-8zM88 480h8v15h-8zM96 480h8v15h-8zM104 480h8v15h-8zM112 480h8v15h-8zM128 480h8v15h-8zM136 480h8v15h-8zM152 480h38v15h-38zM16 495h8v15h-8zM56 495h8v15h-8zM64 495h8v15h-8zM80 495h8v15h-8zM96 495h8v15h-8zM104 495h8v15h-8zM112 495h8v15h-8zM128 495h8v15h-8zM136 495h8v15h-8z"/><path fill="#2692e5" d="M112 75h8v15h-8zM112 90h8v15h-8zM112 105h8v15h-8zM120 105h8v15h-8zM112 120h8v15h-8zM48 135h8v15h-8zM16 150h8v15h-8zM112 150h8v15h-8zM72 165h8v15h-8zM80 165h8v15h-8zM-20 180h28v15h-28zM56 180h8v15h-8zM64 180h8v15h-8zM80 240h8v15h-8zM-20 255h28v15h-28zM8 255h8v15h-8zM48 255h8v15h-8zM56 255h8v15h-8zM88 255h8v15h-8zM104 255h8v15h-8zM-20 270h28v15h-28zM120 285h8v15h-8zM56 300h8v15h-8zM8 315h8v15h-8zM16 315h8v15h-8zM-20 330h28v15h-28zM24 345h8v15h-8zM64 390h8v15h-8zM64 435h8v15h-8z"/><path fill="#42627f" d="M128 75h8v15h-8zM144 90h8v15h-8zM24 135h8v15h-8zM120 135h8v15h-8zM128 135h8v15h-8zM144 225h8v15h-8zM152 225h38v15h-38zM144 240h8v15h-8zM152 240h38v15h-38zM136 255h8v15h-8zM136 285h8v15h-8zM128 300h8v15h-8zM144 300h8v15h-8zM152 300h38v15h-38zM136 315h8v15h-8zM144 315h8v15h-8zM40 330h8v15h-8zM136 330h8v15h-8zM152 330h38v15h-38zM48 345h8v15h-8zM24 360h8v15h-8zM48 360h8v15h-8zM56 360h8v15h-8zM72 360h8v15h-8zM48 375h8v15h-8zM56 375h8v15h-8zM64 375h8v15h-8zM72 375h8v15h-8zM48 390h8v15h-8zM56 420h8v15h-8zM64 420h8v15h-8zM48 435h8v15h-8z"/><path fill="#50c6b8" d="M-20 345h28v15h-28zM8 345h8v15h-8zM16 345h8v15h-8zM-20 360h28v15h-28zM8 360h8v15h-8zM16 360h8v15h-8zM8 375h8v15h-8zM16 375h8v15h-8zM16 390h8v15h-8z"/></g>
<rect x="-30" y="-20" width="230" height="565" fill="url(#ptT)" mask="url(#m2T)"/>
<rect x="-30" y="-20" width="230" height="565" fill="url(#ptC)" mask="url(#m2C)"/>
<rect x="-30" y="-20" width="230" height="565" fill="url(#ptK)" mask="url(#m2K)"/>
<rect x="-30" y="-20" width="230" height="565" fill="url(#ptB)" mask="url(#m2B)"/>
<rect x="-30" y="-20" width="230" height="565" fill="url(#ptN)" mask="url(#m2N)"/>
<rect x="-30" y="-20" width="230" height="565" fill="url(#ptP)" mask="url(#m2P)"/>
<rect x="-30" y="-20" width="230" height="565" fill="url(#ptQ)" mask="url(#m2Q)"/>
<rect x="-30" y="-20" width="230" height="565" fill="url(#ptR)" mask="url(#m2R)"/>
<rect x="-30" y="-20" width="230" height="565" fill="url(#ptD)" mask="url(#m2D)"/>
<rect x="-30" y="-20" width="230" height="565" fill="url(#ptG)" mask="url(#m2G)"/>
<rect x="-30" y="-20" width="230" height="565" fill="url(#ptH)" mask="url(#m2H)"/>
<rect x="-30" y="-20" width="230" height="565" fill="url(#ptY)" mask="url(#m2Y)"/>
<rect x="-30" y="-20" width="230" height="565" fill="url(#ptO)" mask="url(#m2O)"/>
<rect x="-30" y="-20" width="230" height="565" fill="url(#ptM)" mask="url(#m2M)"/>
<rect x="-30" y="-20" width="230" height="565" fill="url(#ptA)" mask="url(#m2A)"/>
<rect x="-30" y="-20" width="230" height="565" fill="url(#ptE)" mask="url(#m2E)"/>
<rect x="-30" y="-20" width="230" height="565" fill="url(#ptJ)" mask="url(#m2J)"/>
</g></g></g>
<defs><linearGradient id="cb" x1="0" y1="0" x2="0" y2="1"><stop offset="0.00" stop-color="#d7280c"/><stop offset="0.05" stop-color="#e13c0f"/><stop offset="0.10" stop-color="#f05f0f"/><stop offset="0.15" stop-color="#f57d14"/><stop offset="0.20" stop-color="#f3a019"/><stop offset="0.25" stop-color="#e6be23"/><stop offset="0.30" stop-color="#cdd232"/><stop offset="0.35" stop-color="#aae150"/><stop offset="0.40" stop-color="#82e873"/><stop offset="0.45" stop-color="#5fe496"/><stop offset="0.50" stop-color="#46dcb9"/><stop offset="0.55" stop-color="#32cdd2"/><stop offset="0.60" stop-color="#23b9e6"/><stop offset="0.65" stop-color="#199bee"/><stop offset="0.70" stop-color="#147deb"/><stop offset="0.75" stop-color="#145fe1"/><stop offset="0.80" stop-color="#1241cd"/><stop offset="0.85" stop-color="#0f2db4"/><stop offset="0.90" stop-color="#0c1c9b"/><stop offset="0.95" stop-color="#0a0f82"/><stop offset="1.00" stop-color="#0a0a73"/></linearGradient></defs>
<rect x="981.2" y="25.9" width="33.6" height="225.4" fill="url(#cb)" stroke="#2a1a10" stroke-width="0.9"/>
<line x1="1015" y1="251.0" x2="1019.5" y2="251.0" stroke="#555" stroke-width="1.3"/>
<text x="1020.5" y="257.6" class="tl">0</text>
<line x1="1015" y1="228.4" x2="1019.5" y2="228.4" stroke="#555" stroke-width="1.3"/>
<text x="1020.5" y="235.0" class="tl">20</text>
<line x1="1015" y1="205.9" x2="1019.5" y2="205.9" stroke="#555" stroke-width="1.3"/>
<text x="1020.5" y="212.5" class="tl">40</text>
<line x1="1015" y1="183.3" x2="1019.5" y2="183.3" stroke="#555" stroke-width="1.3"/>
<text x="1020.5" y="189.9" class="tl">60</text>
<line x1="1015" y1="160.8" x2="1019.5" y2="160.8" stroke="#555" stroke-width="1.3"/>
<text x="1020.5" y="167.4" class="tl">80</text>
<line x1="1015" y1="138.2" x2="1019.5" y2="138.2" stroke="#555" stroke-width="1.3"/>
<text x="1020.5" y="144.8" class="tl">100</text>
<line x1="1015" y1="115.7" x2="1019.5" y2="115.7" stroke="#555" stroke-width="1.3"/>
<text x="1020.5" y="122.3" class="tl">120</text>
<line x1="1015" y1="93.2" x2="1019.5" y2="93.2" stroke="#555" stroke-width="1.3"/>
<text x="1020.5" y="99.8" class="tl">140</text>
<line x1="1015" y1="70.6" x2="1019.5" y2="70.6" stroke="#555" stroke-width="1.3"/>
<text x="1020.5" y="77.2" class="tl">160</text>
<line x1="1015" y1="48.0" x2="1019.5" y2="48.0" stroke="#555" stroke-width="1.3"/>
<text x="1020.5" y="54.6" class="tl">180</text>
<line x1="1015" y1="25.5" x2="1019.5" y2="25.5" stroke="#555" stroke-width="1.3"/>
<text x="1020.5" y="32.1" class="tl">200</text>
</svg>
<div class="title" style="left:981px;top:1.5px;">Nitrogen level</div>
<div class="lab" style="left:139px;top:525px;">(a)</div>
<div class="lab" style="left:489px;top:525.8px;letter-spacing:0;">(b)</div>
<div class="lab" style="left:839px;top:525px;">(c)</div>
</body></html>
